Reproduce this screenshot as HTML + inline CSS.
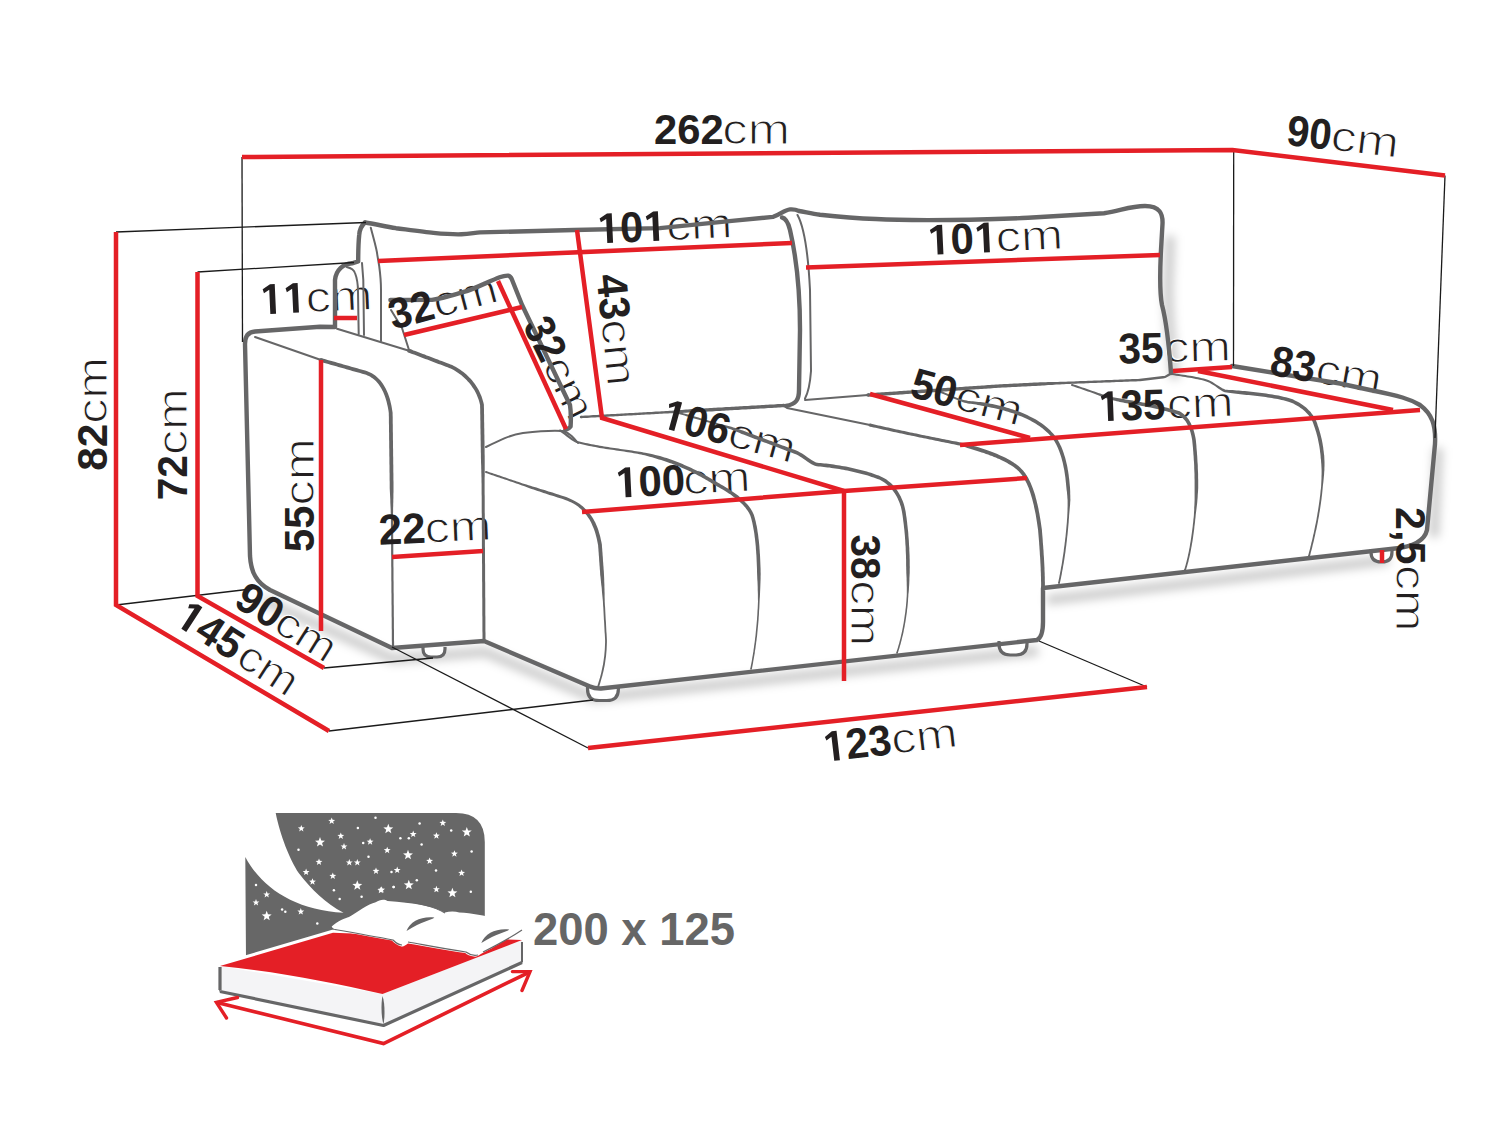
<!DOCTYPE html><html><head><meta charset="utf-8"><style>html,body{margin:0;padding:0;background:#fff;overflow:hidden;font-family:"Liberation Sans",sans-serif}svg{display:block}</style></head><body><svg width="1500" height="1125" viewBox="0 0 1500 1125">
<defs><filter id="sh" x="-20%" y="-50%" width="140%" height="200%"><feGaussianBlur stdDeviation="5"/></filter></defs>
<rect width="1500" height="1125" fill="#fff"/>
<g filter="url(#sh)" fill="none" stroke="#000" stroke-opacity="0.2" stroke-width="10" transform="translate(1,8)"><path d="M262,592 L392,651 L484,644 L593,690 L1037,643"/><path d="M1046,592 L1388,552"/><path d="M1169,228 L1168,260 C1166,290 1168,320 1174,371"/><path d="M1437,440 L1433,529"/></g>
<g fill="#231f20" font-family="Liberation Sans, sans-serif"><g transform="translate(655.5,144) rotate(0)"><text x="66.80" y="0" font-size="42.5" textLength="67.60" lengthAdjust="spacingAndGlyphs" stroke="#fff" stroke-width="1.1">cm</text></g><g transform="translate(1286.9,144.9) rotate(6.6)"><text x="42.98" y="0" font-size="42.5" textLength="68.25" lengthAdjust="spacingAndGlyphs" stroke="#fff" stroke-width="1.1">cm</text></g><g transform="translate(600.7,243.4) rotate(-2.6)"><text x="66.14" y="0" font-size="42.5" textLength="66.18" lengthAdjust="spacingAndGlyphs" stroke="#fff" stroke-width="1.1">cm</text></g><g transform="translate(931,254.9) rotate(-2.66)"><text x="65.30" y="0" font-size="42.5" textLength="67.60" lengthAdjust="spacingAndGlyphs" stroke="#fff" stroke-width="1.1">cm</text></g><g transform="translate(263.8,314.2) rotate(-2.6)"><text x="42.52" y="0" font-size="42.5" textLength="66.94" lengthAdjust="spacingAndGlyphs" stroke="#fff" stroke-width="1.1">cm</text></g><g transform="translate(394,329.6) rotate(-15)"><text x="44.57" y="0" font-size="42.5" textLength="65.42" lengthAdjust="spacingAndGlyphs" stroke="#fff" stroke-width="1.1">cm</text></g><g transform="translate(523,326.2) rotate(64)"><text x="42.79" y="0" font-size="42.5" textLength="64.77" lengthAdjust="spacingAndGlyphs" stroke="#fff" stroke-width="1.1">cm</text></g><g transform="translate(596.6,276.2) rotate(84.3)"><text x="44.62" y="0" font-size="42.5" textLength="66.83" lengthAdjust="spacingAndGlyphs" stroke="#fff" stroke-width="1.1">cm</text></g><g transform="translate(107,469.5) rotate(-90)"><text x="45.72" y="0" font-size="42.5" textLength="66.94" lengthAdjust="spacingAndGlyphs" stroke="#fff" stroke-width="1.1">cm</text></g><g transform="translate(187.3,498.6) rotate(-90)"><text x="43.52" y="0" font-size="42.5" textLength="66.94" lengthAdjust="spacingAndGlyphs" stroke="#fff" stroke-width="1.1">cm</text></g><g transform="translate(313.9,550.8) rotate(-90)"><text x="45.31" y="0" font-size="42.5" textLength="67.27" lengthAdjust="spacingAndGlyphs" stroke="#fff" stroke-width="1.1">cm</text></g><g transform="translate(380.8,544.6) rotate(-2.5)"><text x="44.52" y="0" font-size="42.5" textLength="66.83" lengthAdjust="spacingAndGlyphs" stroke="#fff" stroke-width="1.1">cm</text></g><g transform="translate(662.5,427.9) rotate(15.3)"><text x="65.26" y="0" font-size="42.5" textLength="68.69" lengthAdjust="spacingAndGlyphs" stroke="#fff" stroke-width="1.1">cm</text></g><g transform="translate(619,497.5) rotate(-2.8)"><text x="64.90" y="0" font-size="42.5" textLength="67.38" lengthAdjust="spacingAndGlyphs" stroke="#fff" stroke-width="1.1">cm</text></g><g transform="translate(851.2,535.4) rotate(90)"><text x="44.75" y="0" font-size="42.5" textLength="65.96" lengthAdjust="spacingAndGlyphs" stroke="#fff" stroke-width="1.1">cm</text></g><g transform="translate(909.6,396.7) rotate(15)"><text x="44.78" y="0" font-size="42.5" textLength="68.14" lengthAdjust="spacingAndGlyphs" stroke="#fff" stroke-width="1.1">cm</text></g><g transform="translate(1101.8,421.3) rotate(-2.25)"><text x="65.42" y="0" font-size="42.5" textLength="66.94" lengthAdjust="spacingAndGlyphs" stroke="#fff" stroke-width="1.1">cm</text></g><g transform="translate(1119.6,363.5) rotate(-1.5)"><text x="45.23" y="0" font-size="42.5" textLength="66.40" lengthAdjust="spacingAndGlyphs" stroke="#fff" stroke-width="1.1">cm</text></g><g transform="translate(1269.7,374.8) rotate(10)"><text x="44.62" y="0" font-size="42.5" textLength="66.83" lengthAdjust="spacingAndGlyphs" stroke="#fff" stroke-width="1.1">cm</text></g><g transform="translate(1395.8,508.5) rotate(90)"><text x="56.63" y="0" font-size="42.5" textLength="66.51" lengthAdjust="spacingAndGlyphs" stroke="#fff" stroke-width="1.1">cm</text></g><g transform="translate(233.5,606) rotate(32)"><text x="44.90" y="0" font-size="42.5" textLength="64.33" lengthAdjust="spacingAndGlyphs" stroke="#fff" stroke-width="1.1">cm</text></g><g transform="translate(175.8,625.2) rotate(33)"><text x="69.41" y="0" font-size="42.5" textLength="63.90" lengthAdjust="spacingAndGlyphs" stroke="#fff" stroke-width="1.1">cm</text></g><g transform="translate(827.8,761.6) rotate(-6.65)"><text x="65.33" y="0" font-size="42.5" textLength="66.51" lengthAdjust="spacingAndGlyphs" stroke="#fff" stroke-width="1.1">cm</text></g></g>
<g fill="#fff" stroke="#666667" stroke-width="3.2"><path d="M423,647 L423,649.0 Q423,657 431.0,657 L437.0,657 Q445,657 445,649.0 L445,647"/><path d="M587.5,686 L587.5,688.9 Q587.5,700.5 599.1,700.5 L606.8,700.5 Q618.4,700.5 618.4,688.9 L618.4,686"/><path d="M999,641 L999,643.8 Q999,655 1010.2,655 L1015.8,655 Q1027,655 1027,643.8 L1027,641"/><path d="M1371,549.5 L1371,552.0 Q1371,562 1381.0,562 L1382.0,562 Q1392,562 1392,552.0 L1392,549.5"/></g>
<g fill="none" stroke="#666667" stroke-width="2" stroke-linecap="round" stroke-linejoin="round"><path d="M797.5,215 C803,225 808,250 810,290 L811,371 C810,385 808,393 805,398.5"/><path d="M805,400 L868,395"/><path d="M787,408 L870,425"/><path d="M362,263 L363.3,280 L364,335"/><path d="M370.8,227.7 C374,240 377,250 377.3,254.8 C378.5,262 379.2,266 379.2,266 C380,272 381,280 381,290 L381,341"/><path d="M346.7,267 C351,268 354,270 355,273 C357,278 358,285 358,292 L358.7,334"/><path d="M337,328.7 L409,350.7"/><path d="M255,337 L321,360"/><path d="M391,310 L402,328 L409,350"/><path d="M486,447 C500,440 510,435 523,433 C540,431 553,430 563,431 C570,433 574,438 578,443"/></g>
<g fill="none" stroke="#666667" stroke-width="4.4" stroke-linecap="round" stroke-linejoin="round"><path d="M365,222.5 C375,224 385,226.5 396,228.2 C410,230 425,232 433.4,232.9 C445,234 455,234.5 461.4,234.3 C470,234 475,232.6 480,232.4 L574,230 L660,228.1 L729.3,221.1 L773,216.9 C780,215 784,210 790,209.4 C795,209 798,210.5 799,211 C805,212 812,213.5 820,214.7 C840,217 860,218.5 876,219 C910,221 990,220 1028,217.8 C1060,216 1090,214 1104,213.2 C1120,211 1130,206 1145,206 C1160,206 1163,214 1162.5,224 L1161,250 C1160,270 1159,290 1162,305 C1166,320 1169,345 1171,373"/><path d="M365,222.5 C361,226 359.6,229 359.2,235 C358.5,242 358.2,250 358.2,261.4 L352,263.3 C343,264 336,270 335,280 L335,327 L320,326.7 L255,331.5 C248,332 245,336 245,344 L250,556 C251,572 256,582 270,590 L392,648 L484,641 L590,686.5 C593,688 596,688.6 601,688.5 L1037,640 C1041,638 1043,632 1043,622 L1043,588 L1395,548.5 C1410,547 1424,543 1427,530 L1435,444 C1436,425 1432,414 1420,405 C1410,399 1400,396 1370,390 L1340,383.5 L1232,366"/><path d="M786,406 C796,404 799,400 799,390 L800,330 C800,300 797,260 790,230 C788,222 785,218 782,217.5"/><path d="M390.4,300 C405,300 420,300 432,299.9 C445,298 456,294 466.7,291.2 C478,287 490,281 499.6,277.3 C503,276 506,275.5 508.2,275.6 C510,276 511,277.5 511.7,279 L522.1,305 L570,405 C571,412 571,420 570.6,426.4 C569.5,428 568,429 565.4,429.8"/></g>
<g fill="#666667" stroke="none"><path d="M868.1,396.7 L870.1,396.6 L872.1,396.4 L874.1,396.3 L876.1,396.2 L878.1,396.0 L880.1,395.9 L882.1,395.7 L884.1,395.6 L886.1,395.5 L888.1,395.3 L890.1,395.2 L892.1,395.1 L894.1,394.9 L896.1,394.8 L898.1,394.7 L900.1,394.5 L902.1,394.4 L904.1,394.2 L906.1,394.1 L908.1,394.0 L910.1,393.8 L912.1,393.7 L914.1,393.6 L916.1,393.4 L918.1,393.3 L920.1,393.2 L922.1,393.0 L924.1,392.9 L926.1,392.7 L928.1,392.6 L930.1,392.5 L932.1,392.3 L934.1,392.2 L936.1,392.1 L938.1,391.9 L940.1,391.8 L942.1,391.7 L944.1,391.5 L946.1,391.4 L948.1,391.2 L950.1,391.1 L952.1,391.0 L954.1,390.8 L956.1,390.7 L958.1,390.6 L960.1,390.4 L962.1,390.3 L964.1,390.2 L966.1,390.0 L968.1,389.9 L970.1,389.7 L972.1,389.6 L974.1,389.5 L976.1,389.3 L978.1,389.2 L980.1,389.1 L982.1,388.9 L984.1,388.8 L986.1,388.7 L988.1,388.5 L990.1,388.4 L992.1,388.2 L994.1,388.1 L996.1,388.0 L998.1,387.8 L1000.1,387.7 L1002.1,387.6 L1004.1,387.5 L1006.1,387.4 L1008.1,387.3 L1010.1,387.2 L1012.1,387.1 L1014.1,387.0 L1016.1,386.9 L1018.1,386.8 L1020.1,386.7 L1022.1,386.6 L1024.1,386.5 L1026.1,386.4 L1028.1,386.3 L1030.1,386.2 L1032.1,386.1 L1034.1,386.0 L1036.1,385.9 L1038.1,385.8 L1040.1,385.7 L1042.1,385.5 L1044.1,385.4 L1046.1,385.2 L1048.1,385.1 L1050.1,385.0 L1052.1,384.9 L1054.1,384.7 L1056.1,384.6 L1058.1,384.5 L1060.0,384.4 L1062.0,384.3 L1064.0,384.2 L1066.0,384.1 L1068.0,384.0 L1070.0,383.9 L1072.0,383.8 L1074.0,383.8 L1076.0,383.7 L1078.0,383.6 L1080.0,383.5 L1082.0,383.5 L1084.0,383.4 L1086.0,383.3 L1088.0,383.2 L1090.0,383.1 L1092.0,383.1 L1094.0,383.0 L1096.0,382.9 L1098.0,382.8 L1100.0,382.8 L1102.0,382.7 L1104.0,382.6 L1106.0,382.5 L1108.0,382.4 L1110.0,382.4 L1112.0,382.3 L1114.0,382.2 L1116.0,382.1 L1118.0,382.1 L1120.0,382.0 L1122.0,381.9 L1124.0,381.8 L1126.0,381.7 L1128.0,381.7 L1130.0,381.6 L1132.0,381.5 L1134.0,381.4 L1136.0,381.4 L1138.0,381.3 L1140.1,381.2 L1142.2,380.9 L1144.3,380.7 L1146.4,380.4 L1148.5,380.2 L1150.6,379.9 L1152.6,379.7 L1154.7,379.4 L1156.8,379.2 L1158.9,378.9 L1161.0,378.7 L1163.1,378.4 L1165.4,378.1 L1167.3,377.0 L1169.1,376.0 L1170.8,375.0 L1172.6,374.0 L1171.4,372.0 L1169.7,373.0 L1167.9,374.0 L1166.2,375.0 L1164.6,375.9 L1162.8,376.1 L1160.7,376.3 L1158.6,376.6 L1156.5,376.8 L1154.4,377.1 L1152.4,377.3 L1150.3,377.6 L1148.2,377.8 L1146.1,378.1 L1144.0,378.3 L1141.9,378.6 L1139.9,378.8 L1138.0,378.9 L1136.0,379.0 L1134.0,379.0 L1132.0,379.1 L1130.0,379.2 L1128.0,379.3 L1126.0,379.3 L1124.0,379.4 L1122.0,379.5 L1120.0,379.6 L1118.0,379.7 L1116.0,379.7 L1114.0,379.8 L1112.0,379.9 L1110.0,380.0 L1108.0,380.0 L1106.0,380.1 L1104.0,380.2 L1102.0,380.3 L1100.0,380.4 L1098.0,380.4 L1096.0,380.5 L1094.0,380.6 L1092.0,380.7 L1090.0,380.7 L1088.0,380.8 L1086.0,380.9 L1084.0,381.0 L1082.0,381.1 L1080.0,381.1 L1078.0,381.2 L1076.0,381.3 L1074.0,381.4 L1072.0,381.4 L1070.0,381.5 L1068.0,381.6 L1066.0,381.7 L1064.0,381.8 L1062.0,381.8 L1060.0,381.8 L1057.9,381.9 L1055.9,381.9 L1053.9,382.0 L1051.9,382.0 L1049.9,382.0 L1047.9,382.1 L1045.9,382.2 L1043.9,382.2 L1041.9,382.3 L1039.9,382.3 L1037.9,382.4 L1035.9,382.5 L1033.9,382.6 L1031.9,382.7 L1029.9,382.8 L1027.9,382.9 L1025.9,383.0 L1023.9,383.1 L1021.9,383.2 L1019.9,383.3 L1017.9,383.4 L1015.9,383.5 L1013.9,383.6 L1011.9,383.7 L1009.9,383.8 L1007.9,383.9 L1005.9,384.0 L1003.9,384.1 L1001.9,384.2 L999.9,384.3 L997.9,384.4 L995.9,384.6 L993.9,384.7 L991.9,384.8 L989.9,385.0 L987.9,385.1 L985.9,385.3 L983.9,385.4 L981.9,385.5 L979.9,385.7 L977.9,385.8 L975.9,385.9 L973.9,386.1 L971.9,386.2 L969.9,386.3 L967.9,386.5 L965.9,386.6 L963.9,386.8 L961.9,386.9 L959.9,387.0 L957.9,387.2 L955.9,387.3 L953.9,387.4 L951.9,387.6 L949.9,387.7 L947.9,387.8 L945.9,388.0 L943.9,388.1 L941.9,388.3 L939.9,388.4 L937.9,388.5 L935.9,388.7 L933.9,388.8 L931.9,388.9 L929.9,389.1 L927.9,389.2 L925.9,389.3 L923.9,389.5 L921.9,389.6 L919.9,389.8 L917.9,389.9 L915.9,390.0 L913.9,390.2 L911.9,390.3 L909.9,390.4 L907.9,390.6 L905.9,390.7 L903.9,390.8 L901.9,391.0 L899.9,391.1 L897.9,391.3 L895.9,391.4 L893.9,391.5 L891.9,391.7 L889.9,391.8 L887.9,391.9 L885.9,392.1 L883.9,392.2 L881.9,392.3 L879.9,392.5 L877.9,392.6 L875.9,392.8 L873.9,392.9 L871.9,393.0 L869.9,393.2 L867.9,393.3Z"/><circle cx="868.0" cy="395.0" r="1.70"/><circle cx="1172.0" cy="373.0" r="1.20"/><path d="M320.5,361.8 L322.5,362.4 L324.5,363.0 L326.4,363.5 L328.4,364.1 L330.4,364.7 L332.4,365.2 L334.4,365.8 L336.4,366.3 L338.4,366.9 L340.3,367.5 L342.3,368.0 L344.3,368.6 L346.3,369.2 L348.3,369.7 L350.3,370.3 L352.3,370.9 L354.3,371.4 L356.2,372.0 L358.2,372.6 L360.2,373.1 L362.2,373.7 L364.2,374.3 L366.1,374.8 L367.5,375.4 L368.9,376.1 L370.3,376.8 L371.6,377.7 L372.9,378.6 L374.1,379.6 L375.3,380.6 L376.5,381.8 L377.6,383.0 L378.6,384.3 L379.6,385.7 L380.6,387.2 L381.5,388.8 L382.4,390.4 L383.2,392.1 L384.0,393.9 L384.7,395.7 L385.4,397.7 L386.0,399.7 L386.6,401.7 L387.1,403.9 L387.6,406.1 L388.1,408.4 L388.5,410.8 L388.8,413.2 L388.8,415.0 L388.9,417.1 L388.9,419.1 L388.9,421.1 L388.9,423.1 L389.0,425.2 L389.0,427.2 L389.0,429.2 L389.0,431.2 L389.1,433.3 L389.1,435.3 L389.1,437.3 L389.1,439.3 L389.2,441.3 L389.2,443.4 L389.2,445.4 L389.2,447.4 L389.3,449.4 L389.3,451.5 L389.3,453.5 L389.3,455.5 L389.4,457.5 L389.4,459.6 L389.4,461.6 L389.4,463.6 L389.5,465.6 L389.5,467.7 L389.5,469.7 L389.5,471.7 L389.6,473.7 L389.6,475.7 L389.6,477.8 L389.6,479.8 L389.7,481.8 L389.7,483.8 L389.7,485.9 L389.7,487.9 L389.8,489.9 L389.9,491.9 L390.0,494.0 L390.1,496.0 L390.2,498.0 L390.3,500.0 L390.3,502.0 L390.4,504.0 L390.5,506.0 L390.6,508.0 L390.7,510.0 L390.7,512.0 L390.8,514.0 L390.8,516.0 L390.8,518.0 L390.9,520.0 L390.9,522.0 L390.9,524.0 L390.9,526.0 L390.9,528.0 L390.9,530.0 L391.0,532.0 L391.0,534.0 L391.0,536.0 L391.0,538.0 L391.0,540.0 L391.0,542.0 L391.1,544.0 L391.1,546.0 L391.1,548.0 L391.1,550.0 L391.1,552.0 L391.1,554.0 L391.2,556.0 L391.2,558.0 L391.2,560.0 L391.2,562.0 L391.2,564.0 L391.2,566.0 L391.3,568.0 L391.3,570.0 L391.3,572.0 L391.3,574.0 L391.3,576.0 L391.3,578.0 L391.3,580.0 L391.4,582.0 L391.4,584.0 L391.4,586.0 L391.4,588.0 L391.4,590.0 L391.4,592.0 L391.5,594.0 L391.5,596.0 L391.5,598.0 L391.5,600.0 L391.5,602.0 L391.5,604.0 L391.6,606.0 L391.6,608.0 L391.6,610.0 L391.6,612.0 L391.6,614.0 L391.6,616.0 L391.7,618.0 L391.7,620.0 L391.7,622.0 L391.7,624.0 L391.7,626.0 L391.7,628.0 L391.8,630.0 L391.8,632.0 L391.8,634.0 L391.8,636.0 L391.8,638.0 L391.8,640.0 L391.9,642.0 L391.9,644.0 L391.9,646.0 L391.9,648.0 L394.1,648.0 L394.1,646.0 L394.1,644.0 L394.1,642.0 L394.0,640.0 L394.0,638.0 L394.0,636.0 L394.0,634.0 L394.0,632.0 L394.0,630.0 L393.9,628.0 L393.9,626.0 L393.9,624.0 L393.9,622.0 L393.9,620.0 L393.9,618.0 L393.8,616.0 L393.8,614.0 L393.8,612.0 L393.8,610.0 L393.8,608.0 L393.8,606.0 L393.7,604.0 L393.7,602.0 L393.7,600.0 L393.7,598.0 L393.7,596.0 L393.7,594.0 L393.6,592.0 L393.6,590.0 L393.6,588.0 L393.6,586.0 L393.6,584.0 L393.6,582.0 L393.5,580.0 L393.5,578.0 L393.5,576.0 L393.5,574.0 L393.5,572.0 L393.5,570.0 L393.5,568.0 L393.4,566.0 L393.4,564.0 L393.4,562.0 L393.4,560.0 L393.4,558.0 L393.4,556.0 L393.3,554.0 L393.3,552.0 L393.3,550.0 L393.3,548.0 L393.3,546.0 L393.3,544.0 L393.2,542.0 L393.2,540.0 L393.2,538.0 L393.2,536.0 L393.2,534.0 L393.2,532.0 L393.1,530.0 L393.1,528.0 L393.1,526.0 L393.1,524.0 L393.1,522.0 L393.1,520.0 L393.0,518.0 L393.0,516.0 L393.0,514.0 L393.1,512.0 L393.1,510.0 L393.1,508.0 L393.2,506.0 L393.2,504.0 L393.3,502.0 L393.3,500.0 L393.4,498.0 L393.4,495.9 L393.4,493.9 L393.5,491.9 L393.5,489.9 L393.5,487.8 L393.5,485.8 L393.5,483.8 L393.5,481.8 L393.4,479.7 L393.4,477.7 L393.4,475.7 L393.4,473.7 L393.3,471.7 L393.3,469.6 L393.3,467.6 L393.3,465.6 L393.2,463.6 L393.2,461.5 L393.2,459.5 L393.2,457.5 L393.1,455.5 L393.1,453.4 L393.1,451.4 L393.1,449.4 L393.0,447.4 L393.0,445.3 L393.0,443.3 L393.0,441.3 L392.9,439.3 L392.9,437.3 L392.9,435.2 L392.9,433.2 L392.8,431.2 L392.8,429.2 L392.8,427.1 L392.8,425.1 L392.7,423.1 L392.7,421.1 L392.7,419.0 L392.7,417.0 L392.6,415.0 L392.6,412.8 L392.2,410.2 L391.8,407.8 L391.4,405.4 L390.8,403.0 L390.3,400.8 L389.7,398.6 L389.0,396.4 L388.3,394.4 L387.5,392.4 L386.6,390.5 L385.8,388.7 L384.8,386.9 L383.8,385.2 L382.7,383.6 L381.6,382.0 L380.5,380.6 L379.2,379.2 L377.9,377.9 L376.6,376.7 L375.2,375.6 L373.7,374.5 L372.2,373.6 L370.7,372.7 L369.0,371.9 L367.3,371.2 L365.2,370.6 L363.2,370.0 L361.3,369.5 L359.3,368.9 L357.3,368.3 L355.3,367.8 L353.3,367.2 L351.3,366.7 L349.3,366.1 L347.4,365.5 L345.4,365.0 L343.4,364.4 L341.4,363.8 L339.4,363.3 L337.4,362.7 L335.4,362.1 L333.4,361.6 L331.5,361.0 L329.5,360.4 L327.5,359.9 L325.5,359.3 L323.5,358.7 L321.5,358.2Z"/><circle cx="321.0" cy="360.0" r="1.90"/><circle cx="393.0" cy="648.0" r="1.10"/><path d="M408.3,352.5 L410.2,353.2 L412.1,353.9 L414.0,354.6 L415.9,355.3 L417.8,356.1 L419.6,356.8 L421.5,357.5 L423.4,358.2 L425.3,358.9 L427.2,359.6 L429.1,360.3 L430.9,361.1 L432.8,361.8 L434.7,362.5 L436.6,363.2 L438.5,363.9 L440.4,364.6 L442.3,365.3 L444.1,366.1 L446.0,366.8 L447.6,367.3 L449.1,367.9 L450.7,368.6 L452.2,369.3 L453.7,370.1 L455.2,371.0 L456.7,371.9 L458.2,372.9 L459.6,373.9 L461.1,375.0 L462.5,376.2 L463.9,377.4 L465.2,378.7 L466.6,380.0 L467.8,381.4 L469.1,382.8 L470.3,384.3 L471.4,385.8 L472.5,387.4 L473.6,389.0 L474.6,390.6 L475.5,392.3 L476.4,394.1 L477.2,395.9 L477.9,397.7 L478.6,399.6 L479.2,401.5 L479.7,403.4 L480.1,405.2 L480.1,407.1 L480.2,409.1 L480.2,411.1 L480.2,413.2 L480.3,415.2 L480.3,417.2 L480.3,419.2 L480.4,421.3 L480.4,423.3 L480.4,425.3 L480.4,427.4 L480.5,429.4 L480.5,431.4 L480.5,433.5 L480.6,435.5 L480.6,437.5 L480.6,439.6 L480.7,441.6 L480.7,443.6 L480.7,445.7 L480.8,447.7 L480.8,449.7 L480.8,451.7 L480.9,453.8 L480.9,455.8 L480.9,457.8 L481.0,459.9 L481.0,461.9 L481.1,463.9 L481.2,466.0 L481.2,468.0 L481.3,470.0 L481.3,472.0 L481.4,474.0 L481.4,476.0 L481.5,478.1 L481.5,480.1 L481.5,482.1 L481.6,484.1 L481.6,486.1 L481.6,488.1 L481.6,490.1 L481.6,492.1 L481.6,494.1 L481.7,496.2 L481.7,498.2 L481.7,500.2 L481.7,502.2 L481.7,504.2 L481.7,506.2 L481.7,508.2 L481.7,510.2 L481.7,512.3 L481.8,514.3 L481.8,516.3 L481.8,518.3 L481.8,520.3 L481.8,522.3 L481.8,524.3 L481.8,526.3 L481.8,528.3 L481.9,530.4 L481.9,532.4 L481.9,534.4 L481.9,536.4 L481.9,538.4 L481.9,540.4 L481.9,542.4 L481.9,544.4 L481.9,546.5 L482.0,548.5 L482.0,550.5 L482.0,552.5 L482.0,554.5 L482.0,556.5 L482.0,558.5 L482.0,560.5 L482.0,562.5 L482.1,564.6 L482.1,566.6 L482.1,568.6 L482.1,570.6 L482.1,572.6 L482.1,574.6 L482.1,576.6 L482.1,578.6 L482.1,580.7 L482.2,582.7 L482.2,584.7 L482.2,586.7 L482.2,588.7 L482.2,590.7 L482.2,592.7 L482.2,594.7 L482.2,596.7 L482.3,598.8 L482.3,600.8 L482.3,602.8 L482.3,604.8 L482.3,606.8 L482.3,608.8 L482.3,610.8 L482.3,612.8 L482.3,614.9 L482.4,616.9 L482.4,618.9 L482.4,620.9 L482.4,622.9 L482.4,624.9 L482.4,626.9 L482.4,628.9 L482.4,630.9 L482.5,633.0 L482.5,635.0 L482.5,637.0 L482.5,639.0 L482.5,641.0 L485.5,641.0 L485.5,639.0 L485.5,637.0 L485.5,635.0 L485.5,632.9 L485.4,630.9 L485.4,628.9 L485.4,626.9 L485.4,624.9 L485.4,622.9 L485.4,620.9 L485.4,618.9 L485.4,616.9 L485.3,614.8 L485.3,612.8 L485.3,610.8 L485.3,608.8 L485.3,606.8 L485.3,604.8 L485.3,602.8 L485.3,600.8 L485.3,598.7 L485.2,596.7 L485.2,594.7 L485.2,592.7 L485.2,590.7 L485.2,588.7 L485.2,586.7 L485.2,584.7 L485.2,582.7 L485.1,580.6 L485.1,578.6 L485.1,576.6 L485.1,574.6 L485.1,572.6 L485.1,570.6 L485.1,568.6 L485.1,566.6 L485.1,564.5 L485.0,562.5 L485.0,560.5 L485.0,558.5 L485.0,556.5 L485.0,554.5 L485.0,552.5 L485.0,550.5 L485.0,548.5 L484.9,546.4 L484.9,544.4 L484.9,542.4 L484.9,540.4 L484.9,538.4 L484.9,536.4 L484.9,534.4 L484.9,532.4 L484.9,530.3 L484.8,528.3 L484.8,526.3 L484.8,524.3 L484.8,522.3 L484.8,520.3 L484.8,518.3 L484.8,516.3 L484.8,514.3 L484.7,512.2 L484.7,510.2 L484.7,508.2 L484.7,506.2 L484.7,504.2 L484.7,502.2 L484.7,500.2 L484.7,498.2 L484.7,496.1 L484.6,494.1 L484.6,492.1 L484.6,490.1 L484.6,488.1 L484.6,486.1 L484.6,484.1 L484.6,482.1 L484.6,480.0 L484.6,478.0 L484.7,476.0 L484.7,474.0 L484.7,472.0 L484.7,470.0 L484.7,467.9 L484.7,465.9 L484.7,463.9 L484.7,461.8 L484.7,459.8 L484.7,457.8 L484.7,455.8 L484.6,453.7 L484.6,451.7 L484.6,449.7 L484.6,447.6 L484.5,445.6 L484.5,443.6 L484.5,441.5 L484.4,439.5 L484.4,437.5 L484.4,435.4 L484.3,433.4 L484.3,431.4 L484.3,429.3 L484.2,427.3 L484.2,425.3 L484.2,423.3 L484.1,421.2 L484.1,419.2 L484.1,417.2 L484.1,415.1 L484.0,413.1 L484.0,411.1 L484.0,409.0 L483.9,407.0 L483.9,404.8 L483.4,402.5 L482.8,400.4 L482.2,398.4 L481.5,396.3 L480.7,394.4 L479.8,392.5 L478.9,390.6 L477.9,388.8 L476.8,387.0 L475.7,385.2 L474.5,383.6 L473.3,381.9 L472.0,380.3 L470.7,378.8 L469.3,377.4 L467.9,375.9 L466.4,374.6 L464.9,373.3 L463.4,372.0 L461.9,370.9 L460.3,369.8 L458.7,368.7 L457.1,367.7 L455.5,366.8 L453.9,365.9 L452.2,365.1 L450.6,364.4 L448.9,363.8 L447.4,363.2 L445.5,362.5 L443.6,361.8 L441.7,361.1 L439.8,360.4 L437.9,359.6 L436.1,358.9 L434.2,358.2 L432.3,357.5 L430.4,356.8 L428.5,356.1 L426.6,355.4 L424.8,354.6 L422.9,353.9 L421.0,353.2 L419.1,352.5 L417.2,351.8 L415.3,351.1 L413.4,350.4 L411.6,349.6 L409.7,348.9Z"/><circle cx="409.0" cy="350.7" r="1.90"/><circle cx="484.0" cy="641.0" r="1.50"/><path d="M581.1,418.2 L583.1,418.1 L585.1,418.0 L587.1,417.9 L589.1,417.7 L591.2,417.6 L593.2,417.5 L595.2,417.4 L597.2,417.3 L599.3,417.2 L601.3,417.1 L603.3,417.0 L605.3,416.9 L607.3,416.7 L609.4,416.6 L611.4,416.5 L613.4,416.4 L615.4,416.3 L617.4,416.2 L619.5,416.1 L621.5,416.0 L623.5,415.8 L625.5,415.7 L627.5,415.6 L629.6,415.5 L631.6,415.4 L633.6,415.3 L635.6,415.2 L637.6,415.1 L639.7,414.9 L641.7,414.8 L643.7,414.7 L645.7,414.6 L647.7,414.5 L649.8,414.4 L651.8,414.3 L653.8,414.2 L655.8,414.0 L657.8,413.9 L659.9,413.8 L661.9,413.7 L663.9,413.6 L665.9,413.5 L667.9,413.4 L670.0,413.3 L672.0,413.2 L674.0,413.2 L676.0,413.1 L678.1,413.0 L680.1,412.9 L682.1,412.9 L684.1,412.8 L686.1,412.7 L688.1,412.6 L690.1,412.5 L692.1,412.5 L694.1,412.4 L696.1,412.3 L698.1,412.2 L700.1,412.0 L702.1,411.9 L704.1,411.8 L706.1,411.7 L708.1,411.6 L710.1,411.5 L712.1,411.4 L714.1,411.2 L716.1,411.1 L718.1,411.0 L720.1,410.9 L722.1,410.8 L724.1,410.7 L726.1,410.5 L728.1,410.4 L730.1,410.3 L732.1,410.2 L734.1,410.1 L736.1,410.0 L738.1,409.9 L740.1,409.7 L742.1,409.6 L744.1,409.5 L746.1,409.4 L748.1,409.3 L750.1,409.2 L752.1,409.0 L754.1,408.9 L756.1,408.8 L758.1,408.7 L760.1,408.6 L762.1,408.5 L764.1,408.4 L766.1,408.2 L768.1,408.1 L770.1,408.0 L772.1,407.9 L774.1,407.8 L776.1,407.7 L778.1,407.5 L780.1,407.4 L782.1,407.3 L784.1,407.2 L783.9,403.8 L781.9,403.9 L779.9,404.0 L777.9,404.1 L775.9,404.3 L773.9,404.4 L771.9,404.5 L769.9,404.6 L767.9,404.7 L765.9,404.8 L763.9,405.0 L761.9,405.1 L759.9,405.2 L757.9,405.3 L755.9,405.4 L753.9,405.5 L751.9,405.6 L749.9,405.8 L747.9,405.9 L745.9,406.0 L743.9,406.1 L741.9,406.2 L739.9,406.3 L737.9,406.5 L735.9,406.6 L733.9,406.7 L731.9,406.8 L729.9,406.9 L727.9,407.0 L725.9,407.1 L723.9,407.3 L721.9,407.4 L719.9,407.5 L717.9,407.6 L715.9,407.7 L713.9,407.8 L711.9,408.0 L709.9,408.1 L707.9,408.2 L705.9,408.3 L703.9,408.4 L701.9,408.5 L699.9,408.6 L697.9,408.8 L695.9,408.9 L693.9,409.0 L691.9,409.1 L689.9,409.3 L687.9,409.5 L685.9,409.6 L683.9,409.8 L681.9,409.9 L679.9,410.1 L677.9,410.2 L675.9,410.4 L673.9,410.5 L671.8,410.7 L669.8,410.8 L667.8,411.0 L665.8,411.1 L663.8,411.2 L661.7,411.3 L659.7,411.4 L657.7,411.5 L655.7,411.6 L653.7,411.8 L651.6,411.9 L649.6,412.0 L647.6,412.1 L645.6,412.2 L643.6,412.3 L641.5,412.4 L639.5,412.5 L637.5,412.7 L635.5,412.8 L633.5,412.9 L631.4,413.0 L629.4,413.1 L627.4,413.2 L625.4,413.3 L623.4,413.4 L621.3,413.6 L619.3,413.7 L617.3,413.8 L615.3,413.9 L613.3,414.0 L611.2,414.1 L609.2,414.2 L607.2,414.3 L605.2,414.5 L603.2,414.6 L601.1,414.7 L599.1,414.8 L597.1,414.9 L595.1,415.0 L593.1,415.1 L591.0,415.2 L589.0,415.4 L587.0,415.5 L585.0,415.6 L583.0,415.7 L580.9,415.8Z"/><circle cx="581.0" cy="417.0" r="1.20"/><circle cx="784.0" cy="405.5" r="1.70"/><path d="M559.4,431.4 L561.2,432.5 L563.0,433.7 L564.7,435.0 L566.5,436.4 L568.2,437.7 L569.9,439.0 L571.6,440.2 L573.3,441.3 L575.0,442.3 L576.6,443.0 L578.8,443.6 L580.8,444.1 L582.9,444.6 L585.0,445.0 L587.0,445.5 L589.1,445.9 L591.2,446.3 L593.3,446.7 L595.4,447.1 L597.4,447.5 L599.5,447.9 L601.6,448.2 L603.7,448.5 L605.8,448.9 L607.8,449.2 L609.9,449.5 L612.0,449.8 L614.0,450.1 L616.1,450.4 L618.1,450.7 L620.1,451.0 L622.1,451.3 L624.1,451.6 L626.1,451.9 L628.0,452.2 L630.0,452.5 L631.9,452.8 L633.8,453.2 L635.7,453.5 L637.5,453.8 L639.4,454.2 L641.2,454.6 L643.0,454.9 L644.7,455.3 L647.2,456.0 L649.7,456.7 L652.1,457.3 L654.4,458.0 L656.7,458.8 L658.9,459.5 L661.2,460.1 L663.3,460.8 L665.5,461.5 L667.6,462.2 L669.6,462.9 L671.6,463.6 L673.6,464.4 L675.6,465.1 L677.5,465.9 L679.3,466.6 L681.2,467.4 L683.0,468.2 L684.8,468.9 L686.5,469.7 L688.2,470.5 L689.9,471.3 L691.6,472.1 L693.2,473.0 L694.9,473.8 L696.5,474.6 L698.1,475.5 L699.6,476.3 L701.2,477.1 L702.7,478.0 L704.3,478.8 L705.8,479.7 L707.3,480.6 L708.8,481.4 L710.3,482.3 L711.7,483.2 L713.2,484.0 L714.7,484.9 L716.1,485.8 L717.6,486.7 L719.1,487.6 L721.2,488.7 L723.1,489.8 L725.1,491.0 L727.0,492.2 L728.8,493.4 L730.7,494.6 L732.4,495.9 L734.1,497.2 L735.8,498.5 L737.4,499.8 L738.9,501.1 L740.4,502.4 L741.8,503.8 L743.1,505.1 L744.3,506.5 L745.5,507.8 L746.5,509.2 L747.5,510.5 L748.3,511.8 L749.1,513.1 L749.8,514.4 L750.3,515.6 L750.7,516.8 L751.1,518.1 L751.5,519.4 L751.8,520.8 L752.2,522.2 L752.5,523.7 L752.8,525.2 L753.1,526.8 L753.4,528.4 L753.7,530.0 L754.0,531.7 L754.3,533.5 L754.5,535.3 L754.7,537.1 L755.0,539.0 L755.2,540.9 L755.4,542.8 L755.6,544.8 L755.8,546.8 L755.9,548.9 L756.1,551.0 L756.2,553.1 L756.4,555.3 L756.5,557.5 L756.6,559.8 L756.7,562.1 L756.8,564.4 L756.9,566.8 L757.0,569.2 L757.0,571.6 L757.1,574.1 L757.2,576.6 L757.3,579.2 L757.5,581.7 L757.6,584.4 L757.7,587.0 L757.7,589.4 L757.8,591.8 L757.9,594.2 L757.9,596.5 L757.9,598.9 L758.0,601.2 L757.9,603.6 L757.8,605.9 L757.7,608.2 L757.5,610.5 L757.4,612.7 L757.3,615.0 L757.1,617.2 L757.0,619.4 L756.8,621.6 L756.6,623.7 L756.4,625.9 L756.2,628.0 L756.0,630.1 L755.8,632.1 L755.6,634.2 L755.4,636.2 L755.1,638.2 L754.9,640.2 L754.7,642.1 L754.4,644.0 L754.1,645.9 L753.9,647.8 L753.6,649.6 L753.4,651.4 L753.1,653.1 L752.8,654.9 L752.5,656.5 L752.2,658.2 L752.0,659.8 L751.7,661.4 L751.4,663.0 L751.1,664.5 L750.8,666.0 L750.5,667.4 L750.2,668.8 L751.8,669.2 L752.1,667.8 L752.4,666.3 L752.7,664.8 L753.0,663.3 L753.2,661.7 L753.5,660.1 L753.8,658.5 L754.1,656.8 L754.4,655.1 L754.7,653.4 L754.9,651.6 L755.2,649.8 L755.5,648.0 L755.7,646.1 L756.0,644.2 L756.2,642.3 L756.5,640.4 L756.7,638.4 L757.0,636.4 L757.2,634.4 L757.4,632.3 L757.6,630.2 L757.8,628.1 L758.0,626.0 L758.2,623.9 L758.4,621.7 L758.6,619.5 L758.7,617.3 L758.9,615.1 L759.0,612.8 L759.1,610.5 L759.3,608.3 L759.4,606.0 L759.5,603.6 L759.6,601.3 L759.7,598.9 L759.9,596.6 L760.0,594.2 L760.1,591.8 L760.2,589.4 L760.3,587.0 L760.4,584.3 L760.5,581.7 L760.6,579.1 L760.6,576.6 L760.7,574.0 L760.6,571.6 L760.6,569.1 L760.5,566.7 L760.4,564.3 L760.3,561.9 L760.2,559.6 L760.1,557.3 L760.0,555.1 L759.8,552.9 L759.7,550.7 L759.5,548.6 L759.4,546.5 L759.2,544.5 L759.0,542.4 L758.8,540.5 L758.5,538.5 L758.3,536.6 L758.1,534.8 L757.8,533.0 L757.5,531.2 L757.3,529.5 L757.0,527.8 L756.7,526.1 L756.3,524.5 L756.0,522.9 L755.7,521.4 L755.3,519.9 L754.9,518.5 L754.5,517.1 L754.1,515.7 L753.7,514.4 L753.0,512.9 L752.3,511.4 L751.4,509.9 L750.5,508.5 L749.4,507.0 L748.3,505.5 L747.0,504.1 L745.7,502.7 L744.3,501.2 L742.9,499.8 L741.3,498.4 L739.7,497.0 L738.1,495.6 L736.3,494.3 L734.5,493.0 L732.7,491.7 L730.8,490.4 L728.9,489.1 L726.9,487.9 L724.9,486.7 L722.9,485.5 L720.9,484.4 L719.5,483.6 L718.0,482.7 L716.5,481.8 L715.1,480.9 L713.6,480.1 L712.1,479.2 L710.6,478.3 L709.1,477.4 L707.6,476.6 L706.0,475.7 L704.5,474.8 L702.9,474.0 L701.4,473.1 L699.8,472.3 L698.1,471.4 L696.5,470.6 L694.9,469.7 L693.2,468.9 L691.5,468.1 L689.8,467.3 L688.0,466.5 L686.2,465.7 L684.4,464.9 L682.6,464.1 L680.7,463.3 L678.8,462.5 L676.9,461.8 L674.9,461.0 L672.9,460.3 L670.8,459.5 L668.7,458.8 L666.6,458.1 L664.4,457.4 L662.2,456.7 L660.0,456.0 L657.6,455.4 L655.3,454.9 L652.8,454.3 L650.4,453.7 L647.9,453.2 L645.3,452.7 L643.5,452.4 L641.7,452.0 L639.8,451.8 L637.9,451.5 L636.1,451.2 L634.2,450.9 L632.2,450.6 L630.3,450.3 L628.4,450.0 L626.4,449.7 L624.4,449.5 L622.4,449.2 L620.4,448.9 L618.4,448.6 L616.4,448.3 L614.3,448.0 L612.3,447.7 L610.2,447.4 L608.2,447.0 L606.1,446.7 L604.0,446.4 L602.0,446.0 L599.9,445.7 L597.8,445.3 L595.8,445.0 L593.7,444.6 L591.6,444.2 L589.5,443.8 L587.5,443.3 L585.4,442.9 L583.4,442.4 L581.3,441.9 L579.3,441.5 L577.4,441.0 L576.0,440.3 L574.5,439.4 L572.9,438.4 L571.2,437.2 L569.5,435.9 L567.8,434.6 L566.0,433.3 L564.2,432.0 L562.4,430.7 L560.6,429.6Z"/><circle cx="560.0" cy="430.5" r="1.10"/><circle cx="751.0" cy="669.0" r="0.80"/><path d="M678.7,414.0 L680.6,414.5 L682.6,415.1 L684.5,415.6 L686.4,416.2 L688.4,416.7 L690.3,417.3 L692.2,417.8 L694.1,418.4 L696.1,419.0 L698.0,419.5 L699.9,420.1 L701.8,420.6 L703.8,421.2 L705.7,421.7 L707.6,422.3 L709.5,422.8 L711.5,423.4 L713.4,424.0 L715.3,424.5 L717.2,425.1 L719.2,425.6 L721.1,426.2 L723.0,426.9 L724.9,427.5 L726.8,428.1 L728.7,428.7 L730.6,429.3 L732.4,430.0 L734.2,430.8 L736.1,431.6 L738.0,432.3 L739.8,433.1 L741.7,433.9 L743.5,434.6 L745.4,435.3 L747.3,436.0 L749.2,436.7 L751.1,437.5 L753.0,438.2 L754.8,438.9 L756.7,439.6 L758.6,440.3 L760.5,441.0 L762.4,441.7 L764.3,442.4 L766.1,443.1 L768.0,443.8 L769.9,444.5 L771.8,445.2 L773.7,445.9 L775.5,446.6 L777.4,447.3 L779.3,448.0 L781.2,448.7 L783.1,449.5 L785.0,450.2 L786.8,450.9 L788.7,451.6 L790.6,452.3 L792.5,453.0 L794.3,453.7 L796.5,454.6 L798.4,455.6 L800.3,456.7 L802.0,457.8 L803.7,458.9 L805.3,460.1 L806.9,461.2 L808.4,462.3 L809.9,463.3 L811.5,464.3 L813.1,465.1 L814.8,465.8 L816.7,466.3 L818.5,466.4 L820.3,466.6 L822.1,466.8 L823.9,467.0 L825.7,467.2 L827.6,467.4 L829.5,467.6 L831.4,467.9 L833.3,468.2 L835.3,468.5 L837.3,468.8 L839.3,469.1 L841.3,469.4 L843.3,469.8 L845.4,470.2 L847.4,470.6 L849.4,471.0 L851.5,471.4 L853.6,471.9 L855.6,472.4 L857.7,472.9 L859.7,473.4 L861.7,473.9 L863.8,474.5 L865.8,475.0 L867.8,475.6 L869.8,476.3 L871.7,476.9 L873.7,477.6 L875.6,478.2 L877.5,478.9 L879.3,479.6 L881.1,480.5 L882.8,481.5 L884.4,482.6 L886.0,483.8 L887.5,485.0 L888.9,486.2 L890.3,487.6 L891.5,489.0 L892.7,490.4 L893.8,491.9 L894.9,493.4 L895.8,495.0 L896.7,496.6 L897.6,498.2 L898.3,499.9 L899.0,501.5 L899.7,503.2 L900.2,504.9 L900.8,506.6 L901.2,508.3 L901.6,510.0 L901.9,511.6 L902.2,513.3 L902.6,515.7 L902.9,518.1 L903.2,520.4 L903.5,522.7 L903.8,525.0 L904.0,527.3 L904.3,529.5 L904.5,531.7 L904.7,533.8 L904.9,536.0 L905.0,538.1 L905.2,540.1 L905.3,542.2 L905.4,544.2 L905.6,546.2 L905.7,548.2 L905.7,550.2 L905.8,552.1 L905.9,554.1 L906.0,556.0 L906.0,557.9 L906.1,559.8 L906.1,561.7 L906.1,563.5 L906.1,565.4 L906.2,567.2 L906.2,569.1 L906.3,570.9 L906.3,572.7 L906.4,574.5 L906.5,576.4 L906.6,578.2 L906.6,580.0 L906.7,582.4 L906.7,584.8 L906.8,587.2 L906.8,589.5 L906.8,591.8 L906.8,594.1 L906.7,596.4 L906.5,598.7 L906.4,600.9 L906.2,603.1 L906.0,605.3 L905.8,607.5 L905.5,609.6 L905.3,611.7 L905.0,613.8 L904.7,615.8 L904.4,617.9 L904.1,619.9 L903.8,621.9 L903.5,623.8 L903.1,625.7 L902.8,627.6 L902.4,629.5 L902.0,631.4 L901.6,633.2 L901.2,635.0 L900.8,636.7 L900.4,638.5 L899.9,640.2 L899.5,641.8 L899.1,643.5 L898.6,645.1 L898.1,646.7 L897.7,648.3 L897.2,649.8 L896.7,651.3 L896.2,652.8 L897.8,653.2 L898.2,651.8 L898.7,650.3 L899.2,648.7 L899.7,647.1 L900.1,645.5 L900.6,643.9 L901.0,642.3 L901.5,640.6 L901.9,638.8 L902.3,637.1 L902.8,635.3 L903.2,633.5 L903.6,631.7 L903.9,629.8 L904.3,627.9 L904.7,626.0 L905.0,624.1 L905.4,622.1 L905.7,620.1 L906.0,618.1 L906.3,616.1 L906.6,614.0 L906.9,611.9 L907.1,609.8 L907.4,607.6 L907.6,605.5 L907.8,603.3 L908.0,601.0 L908.1,598.8 L908.3,596.5 L908.4,594.2 L908.7,591.9 L908.9,589.6 L909.0,587.2 L909.2,584.8 L909.3,582.4 L909.4,580.0 L909.4,578.2 L909.5,576.4 L909.6,574.5 L909.7,572.7 L909.7,570.9 L909.7,569.0 L909.8,567.2 L909.7,565.3 L909.7,563.5 L909.7,561.6 L909.7,559.7 L909.6,557.8 L909.6,555.9 L909.5,553.9 L909.4,552.0 L909.3,550.0 L909.3,548.0 L909.1,546.0 L909.0,544.0 L908.9,542.0 L908.8,539.9 L908.6,537.8 L908.4,535.7 L908.3,533.5 L908.1,531.3 L907.8,529.1 L907.6,526.9 L907.3,524.6 L907.1,522.3 L906.8,520.0 L906.5,517.6 L906.1,515.2 L905.8,512.7 L905.5,511.0 L905.1,509.2 L904.7,507.4 L904.2,505.6 L903.7,503.8 L903.1,502.0 L902.4,500.2 L901.6,498.4 L900.8,496.6 L899.9,494.9 L898.9,493.2 L897.9,491.5 L896.7,489.8 L895.5,488.2 L894.2,486.6 L892.9,485.1 L891.4,483.6 L889.9,482.2 L888.2,480.9 L886.5,479.6 L884.7,478.5 L882.8,477.4 L880.7,476.4 L878.8,475.6 L876.8,474.9 L874.8,474.2 L872.9,473.5 L870.9,472.8 L868.8,472.2 L866.8,471.6 L864.7,471.0 L862.7,470.4 L860.6,469.9 L858.5,469.4 L856.4,468.9 L854.4,468.4 L852.3,467.9 L850.2,467.5 L848.1,467.0 L846.0,466.6 L844.0,466.3 L841.9,465.9 L839.9,465.5 L837.8,465.2 L835.8,464.9 L833.8,464.6 L831.9,464.3 L829.9,464.1 L828.0,463.8 L826.1,463.6 L824.3,463.4 L822.4,463.2 L820.6,463.0 L818.9,462.9 L817.3,462.7 L816.0,462.4 L814.6,461.8 L813.3,461.1 L811.9,460.3 L810.4,459.3 L808.9,458.3 L807.4,457.2 L805.7,456.0 L804.0,454.8 L802.1,453.6 L800.1,452.4 L798.0,451.3 L795.7,450.3 L793.7,449.6 L791.9,448.9 L790.0,448.2 L788.1,447.5 L786.2,446.8 L784.3,446.1 L782.5,445.4 L780.6,444.7 L778.7,444.0 L776.8,443.3 L774.9,442.5 L773.0,441.8 L771.2,441.1 L769.3,440.4 L767.4,439.7 L765.5,439.0 L763.6,438.3 L761.7,437.6 L759.9,436.9 L758.0,436.2 L756.1,435.5 L754.2,434.8 L752.3,434.1 L750.5,433.4 L748.6,432.7 L746.7,432.0 L744.8,431.3 L742.9,430.6 L741.0,430.0 L739.1,429.3 L737.2,428.7 L735.3,428.0 L733.4,427.4 L731.4,426.7 L729.4,426.2 L727.5,425.7 L725.6,425.2 L723.6,424.7 L721.7,424.2 L719.7,423.7 L717.8,423.2 L715.9,422.6 L713.9,422.0 L712.0,421.5 L710.1,420.9 L708.2,420.4 L706.2,419.8 L704.3,419.3 L702.4,418.7 L700.5,418.2 L698.5,417.6 L696.6,417.0 L694.7,416.5 L692.8,415.9 L690.8,415.4 L688.9,414.8 L687.0,414.3 L685.1,413.7 L683.1,413.2 L681.2,412.6 L679.3,412.0Z"/><circle cx="679.0" cy="413.0" r="1.00"/><circle cx="897.0" cy="653.0" r="0.80"/><path d="M869.7,426.5 L871.7,426.9 L873.7,427.4 L875.7,427.8 L877.7,428.3 L879.7,428.8 L881.7,429.2 L883.7,429.7 L885.7,430.1 L887.7,430.6 L889.7,431.0 L891.7,431.4 L893.7,431.9 L895.7,432.3 L897.7,432.7 L899.7,433.2 L901.7,433.6 L903.7,434.0 L905.7,434.5 L907.7,434.9 L909.7,435.3 L911.7,435.7 L913.7,436.1 L915.7,436.6 L917.7,437.0 L919.7,437.4 L921.7,437.8 L923.7,438.2 L925.7,438.6 L927.7,439.0 L929.7,439.4 L931.7,439.8 L933.7,440.2 L935.7,440.7 L937.7,441.1 L939.7,441.5 L941.7,441.9 L943.7,442.3 L945.7,442.7 L947.7,443.1 L949.7,443.5 L951.7,443.9 L953.7,444.3 L955.7,444.8 L957.7,445.2 L959.6,445.6 L962.3,446.4 L964.9,447.1 L967.4,447.9 L970.0,448.7 L972.4,449.4 L974.8,450.2 L977.2,450.9 L979.5,451.7 L981.7,452.4 L983.9,453.1 L986.0,453.9 L988.1,454.6 L990.1,455.4 L992.1,456.1 L994.0,456.9 L995.9,457.6 L997.6,458.4 L999.4,459.1 L1001.1,459.9 L1002.7,460.7 L1004.3,461.5 L1005.8,462.3 L1007.2,463.1 L1008.6,463.9 L1010.0,464.7 L1011.3,465.5 L1012.5,466.3 L1013.7,467.1 L1014.8,468.0 L1015.8,468.8 L1016.8,469.6 L1017.8,470.5 L1018.7,471.3 L1019.5,472.3 L1020.4,473.2 L1021.2,474.2 L1022.0,475.3 L1022.8,476.5 L1023.6,477.7 L1024.4,479.0 L1025.1,480.3 L1025.8,481.7 L1026.5,483.1 L1027.2,484.6 L1027.9,486.2 L1028.6,487.8 L1029.2,489.5 L1029.8,491.3 L1030.4,493.1 L1031.0,495.0 L1031.6,496.9 L1032.2,498.9 L1032.7,500.9 L1033.2,503.1 L1033.8,505.2 L1034.2,507.5 L1034.7,509.8 L1035.2,512.1 L1035.7,514.5 L1036.1,517.0 L1036.5,519.5 L1036.9,522.1 L1037.3,524.8 L1037.7,527.5 L1038.1,530.2 L1038.3,532.7 L1038.5,535.2 L1038.7,537.6 L1038.9,540.0 L1039.1,542.2 L1039.2,544.5 L1039.4,546.7 L1039.5,548.8 L1039.7,550.9 L1039.8,553.0 L1039.9,555.0 L1040.1,556.9 L1040.2,558.9 L1040.3,560.8 L1040.4,562.7 L1040.5,564.5 L1040.6,566.4 L1040.7,568.2 L1040.7,570.0 L1040.8,571.8 L1040.9,573.6 L1040.9,575.4 L1041.0,577.1 L1041.0,578.9 L1041.0,580.7 L1041.1,582.5 L1041.1,584.3 L1041.1,586.2 L1041.1,588.0 L1044.9,588.0 L1044.9,586.1 L1044.9,584.3 L1044.9,582.5 L1044.8,580.7 L1044.8,578.9 L1044.8,577.1 L1044.7,575.3 L1044.7,573.5 L1044.6,571.7 L1044.5,569.8 L1044.5,568.0 L1044.4,566.2 L1044.3,564.3 L1044.2,562.5 L1044.1,560.6 L1044.0,558.7 L1043.9,556.7 L1043.7,554.7 L1043.6,552.7 L1043.5,550.6 L1043.3,548.5 L1043.2,546.4 L1043.0,544.2 L1042.8,542.0 L1042.7,539.7 L1042.5,537.3 L1042.3,534.9 L1042.1,532.4 L1041.9,529.8 L1041.5,527.0 L1041.1,524.2 L1040.7,521.5 L1040.3,518.9 L1039.8,516.3 L1039.4,513.8 L1038.9,511.4 L1038.5,509.0 L1038.0,506.7 L1037.5,504.4 L1036.9,502.2 L1036.4,500.0 L1035.8,497.9 L1035.3,495.8 L1034.7,493.8 L1034.1,491.9 L1033.4,490.0 L1032.8,488.2 L1032.1,486.4 L1031.4,484.7 L1030.7,483.1 L1030.0,481.5 L1029.2,480.0 L1028.5,478.5 L1027.7,477.0 L1026.8,475.7 L1026.0,474.4 L1025.1,473.1 L1024.2,471.9 L1023.3,470.8 L1022.3,469.7 L1021.3,468.7 L1020.4,467.7 L1019.3,466.8 L1018.2,465.8 L1017.1,464.9 L1015.9,464.0 L1014.6,463.2 L1013.3,462.3 L1012.0,461.4 L1010.5,460.6 L1009.1,459.7 L1007.6,458.9 L1006.0,458.1 L1004.4,457.3 L1002.7,456.5 L1000.9,455.7 L999.2,454.9 L997.3,454.1 L995.4,453.3 L993.5,452.6 L991.5,451.8 L989.4,451.0 L987.3,450.3 L985.1,449.5 L982.9,448.8 L980.6,448.0 L978.3,447.3 L975.9,446.6 L973.5,445.9 L971.0,445.2 L968.4,444.5 L965.8,443.8 L963.1,443.1 L960.4,442.4 L958.3,442.0 L956.3,441.6 L954.3,441.3 L952.3,440.9 L950.3,440.5 L948.3,440.1 L946.3,439.7 L944.3,439.3 L942.3,438.9 L940.3,438.5 L938.3,438.1 L936.3,437.7 L934.3,437.3 L932.3,436.9 L930.3,436.5 L928.3,436.1 L926.3,435.7 L924.3,435.3 L922.3,434.9 L920.3,434.4 L918.3,434.0 L916.3,433.6 L914.3,433.2 L912.3,432.8 L910.3,432.4 L908.3,431.9 L906.3,431.5 L904.3,431.1 L902.3,430.7 L900.3,430.2 L898.3,429.8 L896.3,429.4 L894.3,428.9 L892.3,428.5 L890.3,428.1 L888.3,427.6 L886.3,427.2 L884.3,426.7 L882.3,426.3 L880.3,425.8 L878.3,425.4 L876.3,424.9 L874.3,424.5 L872.3,424.0 L870.3,423.5Z"/><circle cx="870.0" cy="425.0" r="1.50"/><circle cx="1043.0" cy="588.0" r="1.90"/><path d="M940.6,392.9 L943.2,394.0 L945.6,395.1 L947.9,396.1 L950.1,397.0 L952.2,397.9 L954.2,398.8 L956.1,399.5 L957.9,400.2 L959.6,401.0 L961.3,401.6 L963.0,402.2 L964.6,402.7 L966.2,403.1 L967.8,403.4 L969.3,403.7 L970.9,403.8 L972.5,404.1 L974.3,404.3 L976.1,404.6 L977.9,404.9 L979.8,405.3 L981.7,405.7 L983.6,406.1 L985.6,406.5 L987.6,406.8 L989.6,407.2 L991.7,407.7 L993.7,408.1 L995.8,408.6 L997.8,409.0 L999.9,409.5 L1001.9,410.1 L1003.9,410.6 L1006.0,411.2 L1008.0,411.8 L1010.0,412.4 L1011.9,413.0 L1013.8,413.6 L1015.7,414.3 L1017.5,415.0 L1019.3,415.7 L1021.7,416.6 L1023.9,417.6 L1026.1,418.6 L1028.2,419.6 L1030.2,420.6 L1032.2,421.7 L1034.1,422.7 L1035.9,423.8 L1037.6,424.9 L1039.3,426.0 L1040.9,427.2 L1042.4,428.3 L1043.8,429.5 L1045.2,430.7 L1046.6,431.9 L1047.8,433.1 L1049.0,434.3 L1050.2,435.6 L1051.2,436.8 L1052.2,438.1 L1053.2,439.4 L1054.1,440.7 L1054.9,442.1 L1055.7,443.4 L1056.4,444.8 L1057.2,446.4 L1057.9,448.1 L1058.6,449.8 L1059.3,451.5 L1059.9,453.2 L1060.5,455.0 L1061.1,456.8 L1061.6,458.6 L1062.1,460.4 L1062.6,462.2 L1063.0,464.1 L1063.4,466.0 L1063.8,467.9 L1064.2,469.8 L1064.5,471.8 L1064.8,473.7 L1065.1,475.7 L1065.4,477.7 L1065.6,479.7 L1065.8,481.7 L1066.0,483.7 L1066.2,485.7 L1066.4,487.8 L1066.6,489.8 L1066.9,491.8 L1067.1,493.9 L1067.3,496.0 L1067.4,498.0 L1067.6,500.0 L1067.6,502.1 L1067.6,504.3 L1067.6,506.5 L1067.5,508.7 L1067.5,510.9 L1067.4,513.1 L1067.3,515.3 L1067.2,517.4 L1067.0,519.6 L1066.9,521.8 L1066.7,523.9 L1066.5,526.1 L1066.3,528.2 L1066.1,530.4 L1065.9,532.5 L1065.7,534.6 L1065.5,536.7 L1065.2,538.8 L1065.0,540.9 L1064.7,543.0 L1064.5,545.0 L1064.2,547.1 L1063.9,549.1 L1063.7,551.2 L1063.4,553.2 L1063.1,555.2 L1062.8,557.1 L1062.5,559.1 L1062.2,561.0 L1061.9,563.0 L1061.6,564.9 L1061.2,566.8 L1060.9,568.6 L1060.6,570.5 L1060.2,572.3 L1059.9,574.1 L1059.5,575.9 L1059.2,577.7 L1058.8,579.4 L1058.5,581.1 L1058.1,582.8 L1059.9,583.2 L1060.2,581.5 L1060.6,579.8 L1061.0,578.0 L1061.3,576.2 L1061.7,574.5 L1062.0,572.6 L1062.3,570.8 L1062.7,568.9 L1063.0,567.1 L1063.3,565.2 L1063.7,563.3 L1064.0,561.3 L1064.3,559.4 L1064.6,557.4 L1064.9,555.4 L1065.2,553.4 L1065.5,551.4 L1065.7,549.4 L1066.0,547.3 L1066.3,545.3 L1066.5,543.2 L1066.8,541.1 L1067.0,539.0 L1067.2,536.9 L1067.5,534.8 L1067.7,532.7 L1067.9,530.5 L1068.1,528.4 L1068.3,526.2 L1068.5,524.1 L1068.7,521.9 L1068.8,519.7 L1069.0,517.6 L1069.1,515.4 L1069.3,513.2 L1069.5,511.0 L1069.7,508.8 L1069.9,506.6 L1070.1,504.4 L1070.2,502.2 L1070.4,500.0 L1070.3,497.9 L1070.3,495.8 L1070.2,493.7 L1070.2,491.6 L1070.1,489.5 L1070.0,487.5 L1069.8,485.4 L1069.6,483.4 L1069.4,481.3 L1069.2,479.3 L1068.9,477.2 L1068.7,475.2 L1068.4,473.2 L1068.1,471.2 L1067.7,469.2 L1067.4,467.2 L1067.0,465.3 L1066.5,463.3 L1066.1,461.4 L1065.6,459.5 L1065.1,457.6 L1064.5,455.7 L1063.9,453.8 L1063.3,452.0 L1062.7,450.2 L1062.0,448.4 L1061.2,446.6 L1060.4,444.9 L1059.6,443.2 L1058.8,441.7 L1058.0,440.2 L1057.1,438.8 L1056.1,437.4 L1055.1,436.0 L1054.0,434.6 L1052.9,433.2 L1051.6,431.9 L1050.4,430.5 L1049.0,429.2 L1047.6,428.0 L1046.1,426.7 L1044.6,425.5 L1043.0,424.3 L1041.3,423.1 L1039.6,421.9 L1037.8,420.8 L1035.9,419.6 L1033.9,418.5 L1031.9,417.4 L1029.8,416.4 L1027.6,415.3 L1025.4,414.3 L1023.1,413.3 L1020.7,412.3 L1018.8,411.6 L1016.9,410.9 L1015.0,410.2 L1013.0,409.6 L1011.0,408.9 L1009.0,408.3 L1007.0,407.7 L1004.9,407.1 L1002.8,406.6 L1000.7,406.0 L998.7,405.5 L996.6,405.0 L994.5,404.6 L992.4,404.1 L990.3,403.7 L988.3,403.3 L986.2,402.9 L984.2,402.6 L982.2,402.3 L980.3,402.1 L978.4,401.9 L976.5,401.7 L974.7,401.5 L972.9,401.3 L971.1,401.2 L969.6,401.1 L968.2,400.9 L966.7,400.6 L965.2,400.3 L963.6,399.9 L962.0,399.5 L960.4,399.0 L958.6,398.4 L956.8,397.7 L954.9,396.9 L952.9,396.1 L950.9,395.2 L948.7,394.2 L946.4,393.2 L944.0,392.2 L941.4,391.1Z"/><circle cx="941.0" cy="392.0" r="1.00"/><circle cx="1059.0" cy="583.0" r="0.90"/><path d="M1071.7,386.0 L1073.7,386.6 L1075.6,387.2 L1077.6,387.9 L1079.7,388.5 L1081.7,389.2 L1083.7,389.9 L1085.8,390.7 L1087.8,391.4 L1089.8,392.1 L1091.8,392.8 L1093.8,393.5 L1095.7,394.2 L1097.6,394.9 L1099.5,395.7 L1101.3,396.4 L1103.1,397.0 L1104.8,397.7 L1106.4,398.3 L1108.1,398.8 L1109.6,399.4 L1111.0,399.7 L1112.3,400.1 L1113.7,400.5 L1115.2,400.8 L1116.7,401.2 L1118.3,401.5 L1119.8,401.9 L1121.5,402.2 L1123.1,402.6 L1124.9,402.9 L1126.6,403.2 L1128.4,403.5 L1130.2,403.9 L1132.1,404.2 L1134.0,404.5 L1136.0,404.9 L1137.9,405.2 L1139.9,405.6 L1142.0,406.0 L1144.1,406.3 L1146.2,406.8 L1148.3,407.2 L1150.5,407.6 L1152.7,408.1 L1154.9,408.5 L1157.1,409.0 L1159.4,409.6 L1161.7,410.1 L1164.0,410.7 L1166.4,411.3 L1168.8,411.9 L1171.2,412.6 L1173.6,413.3 L1176.0,414.0 L1178.3,414.7 L1179.6,415.5 L1181.0,416.5 L1182.3,417.6 L1183.5,418.9 L1184.7,420.2 L1185.7,421.6 L1186.6,423.1 L1187.5,424.7 L1188.3,426.4 L1189.1,428.2 L1189.7,430.0 L1190.4,431.9 L1190.9,433.9 L1191.4,436.0 L1191.8,438.1 L1192.2,440.3 L1192.4,442.2 L1192.6,444.2 L1192.8,446.2 L1193.0,448.2 L1193.1,450.1 L1193.3,452.1 L1193.4,454.1 L1193.6,456.1 L1193.7,458.1 L1193.8,460.1 L1194.0,462.1 L1194.1,464.1 L1194.2,466.1 L1194.2,468.1 L1194.3,470.1 L1194.4,472.1 L1194.5,474.0 L1194.5,476.0 L1194.5,478.0 L1194.6,480.0 L1194.6,482.0 L1194.6,484.0 L1194.6,486.0 L1194.6,488.0 L1194.6,490.0 L1194.6,492.0 L1194.6,494.0 L1194.6,495.9 L1194.6,497.9 L1194.6,499.9 L1194.5,502.5 L1194.4,505.0 L1194.2,507.5 L1194.2,510.0 L1194.0,512.4 L1193.9,514.9 L1193.7,517.3 L1193.4,519.6 L1193.2,522.0 L1192.9,524.3 L1192.7,526.5 L1192.4,528.8 L1192.1,531.0 L1191.8,533.2 L1191.5,535.3 L1191.2,537.4 L1190.9,539.5 L1190.6,541.5 L1190.2,543.5 L1189.9,545.4 L1189.6,547.4 L1189.2,549.2 L1188.9,551.1 L1188.5,552.9 L1188.1,554.6 L1187.8,556.3 L1187.4,558.0 L1187.0,559.6 L1186.6,561.2 L1186.2,562.7 L1185.8,564.2 L1185.4,565.7 L1185.0,567.1 L1184.6,568.4 L1184.1,569.7 L1185.9,570.3 L1186.3,569.0 L1186.7,567.6 L1187.1,566.2 L1187.5,564.7 L1187.9,563.2 L1188.4,561.7 L1188.7,560.1 L1189.1,558.4 L1189.5,556.7 L1189.9,555.0 L1190.3,553.2 L1190.6,551.4 L1191.0,549.6 L1191.3,547.7 L1191.7,545.8 L1192.0,543.8 L1192.4,541.8 L1192.7,539.7 L1193.0,537.7 L1193.3,535.5 L1193.6,533.4 L1193.9,531.2 L1194.2,529.0 L1194.4,526.8 L1194.7,524.5 L1195.0,522.2 L1195.2,519.8 L1195.5,517.4 L1195.7,515.0 L1196.0,512.6 L1196.3,510.2 L1196.6,507.7 L1196.9,505.2 L1197.2,502.7 L1197.4,500.1 L1197.6,498.1 L1197.7,496.1 L1197.8,494.0 L1198.0,492.0 L1198.1,490.0 L1198.2,488.0 L1198.2,486.0 L1198.2,484.0 L1198.2,482.0 L1198.2,480.0 L1198.1,478.0 L1198.1,476.0 L1198.1,474.0 L1198.0,471.9 L1197.9,469.9 L1197.8,467.9 L1197.8,465.9 L1197.7,463.9 L1197.5,461.9 L1197.4,459.9 L1197.3,457.9 L1197.2,455.9 L1197.0,453.9 L1196.9,451.9 L1196.7,449.9 L1196.5,447.8 L1196.4,445.8 L1196.2,443.8 L1196.0,441.8 L1195.8,439.7 L1195.4,437.4 L1194.9,435.2 L1194.4,433.0 L1193.8,430.9 L1193.2,428.8 L1192.4,426.8 L1191.6,424.9 L1190.7,423.1 L1189.7,421.3 L1188.7,419.6 L1187.5,417.9 L1186.2,416.4 L1184.8,415.0 L1183.3,413.7 L1181.6,412.5 L1179.7,411.3 L1177.0,410.5 L1174.6,409.8 L1172.1,409.1 L1169.7,408.4 L1167.3,407.8 L1164.9,407.2 L1162.6,406.6 L1160.2,406.1 L1157.9,405.5 L1155.6,405.0 L1153.4,404.5 L1151.2,404.1 L1149.0,403.6 L1146.8,403.2 L1144.7,402.8 L1142.6,402.4 L1140.6,402.0 L1138.6,401.7 L1136.6,401.3 L1134.6,401.0 L1132.7,400.6 L1130.9,400.3 L1129.0,400.0 L1127.2,399.7 L1125.5,399.4 L1123.8,399.1 L1122.1,398.9 L1120.5,398.6 L1118.9,398.3 L1117.3,398.0 L1115.9,397.8 L1114.4,397.5 L1113.0,397.2 L1111.7,396.9 L1110.4,396.6 L1108.9,396.2 L1107.3,395.8 L1105.6,395.2 L1103.8,394.7 L1102.1,394.2 L1100.2,393.6 L1098.3,393.0 L1096.4,392.3 L1094.4,391.6 L1092.5,390.9 L1090.5,390.2 L1088.4,389.5 L1086.4,388.8 L1084.4,388.1 L1082.3,387.4 L1080.3,386.7 L1078.3,386.0 L1076.3,385.3 L1074.3,384.7 L1072.3,384.0Z"/><circle cx="1072.0" cy="385.0" r="1.00"/><circle cx="1185.0" cy="570.0" r="0.90"/><path d="M1171.8,375.0 L1174.0,375.3 L1176.2,375.7 L1178.5,376.0 L1180.7,376.3 L1183.0,376.7 L1185.2,377.0 L1187.4,377.4 L1189.6,377.7 L1191.7,378.1 L1193.8,378.5 L1195.8,378.9 L1197.8,379.3 L1199.7,379.7 L1201.5,380.1 L1203.2,380.5 L1204.8,381.0 L1206.3,381.5 L1207.6,381.9 L1209.6,382.8 L1211.5,383.9 L1213.3,385.0 L1215.0,386.1 L1216.6,387.3 L1218.2,388.5 L1219.8,389.6 L1221.3,390.6 L1222.9,391.5 L1224.7,392.3 L1226.7,392.6 L1228.5,392.8 L1230.4,393.0 L1232.3,393.3 L1234.2,393.5 L1236.2,393.8 L1238.3,394.0 L1240.3,394.3 L1242.4,394.5 L1244.5,394.7 L1246.6,394.9 L1248.7,395.1 L1250.9,395.3 L1253.0,395.5 L1255.1,395.8 L1257.3,396.0 L1259.4,396.3 L1261.5,396.6 L1263.6,396.8 L1265.7,397.1 L1267.8,397.4 L1269.9,397.7 L1271.9,398.1 L1273.9,398.4 L1275.9,398.8 L1277.8,399.1 L1279.7,399.5 L1281.5,399.9 L1283.3,400.3 L1285.0,400.8 L1286.7,401.2 L1288.4,401.7 L1289.9,402.2 L1291.3,402.7 L1293.3,403.6 L1295.3,404.7 L1297.2,405.7 L1299.0,406.8 L1300.6,408.0 L1302.2,409.1 L1303.7,410.3 L1305.1,411.6 L1306.5,412.9 L1307.7,414.2 L1308.8,415.6 L1309.9,417.0 L1310.8,418.4 L1311.7,420.0 L1312.5,421.5 L1313.1,423.1 L1313.7,424.8 L1314.3,426.6 L1315.0,428.5 L1315.6,430.4 L1316.2,432.3 L1316.7,434.2 L1317.2,436.1 L1317.7,438.1 L1318.1,440.0 L1318.5,442.0 L1318.9,443.9 L1319.3,445.9 L1319.6,447.9 L1319.9,449.9 L1320.1,451.9 L1320.4,453.9 L1320.6,455.9 L1320.7,457.9 L1321.0,459.9 L1321.1,461.9 L1321.3,463.9 L1321.4,465.9 L1321.5,468.0 L1321.6,470.0 L1321.6,472.0 L1321.6,474.1 L1321.5,476.2 L1321.5,478.3 L1321.4,480.4 L1321.3,482.5 L1321.2,484.6 L1321.1,486.6 L1320.9,488.7 L1320.6,490.8 L1320.4,492.9 L1320.2,494.9 L1319.9,497.0 L1319.7,499.0 L1319.4,501.1 L1319.1,503.2 L1318.8,505.2 L1318.5,507.2 L1318.2,509.3 L1317.9,511.3 L1317.5,513.3 L1317.2,515.4 L1316.8,517.4 L1316.5,519.4 L1316.1,521.4 L1315.7,523.4 L1315.3,525.3 L1314.9,527.3 L1314.5,529.3 L1314.1,531.2 L1313.7,533.2 L1313.2,535.1 L1312.8,537.1 L1312.4,539.0 L1311.9,540.9 L1311.4,542.8 L1311.0,544.7 L1310.5,546.6 L1310.1,548.4 L1309.6,550.3 L1309.1,552.1 L1308.6,553.9 L1308.1,555.8 L1309.9,556.2 L1310.4,554.4 L1310.8,552.6 L1311.3,550.7 L1311.8,548.9 L1312.3,547.0 L1312.7,545.1 L1313.2,543.2 L1313.7,541.3 L1314.1,539.4 L1314.5,537.5 L1315.0,535.5 L1315.4,533.6 L1315.8,531.6 L1316.3,529.7 L1316.7,527.7 L1317.1,525.7 L1317.5,523.7 L1317.9,521.7 L1318.2,519.7 L1318.6,517.7 L1319.0,515.7 L1319.3,513.6 L1319.7,511.6 L1320.0,509.6 L1320.3,507.5 L1320.6,505.5 L1320.9,503.4 L1321.2,501.3 L1321.5,499.3 L1321.7,497.2 L1322.0,495.1 L1322.2,493.1 L1322.4,491.0 L1322.6,488.9 L1322.8,486.8 L1323.0,484.7 L1323.3,482.6 L1323.5,480.5 L1323.7,478.4 L1323.9,476.3 L1324.1,474.2 L1324.2,472.1 L1324.4,470.0 L1324.4,467.9 L1324.5,465.9 L1324.5,463.8 L1324.5,461.7 L1324.4,459.7 L1324.3,457.6 L1324.2,455.5 L1323.9,453.5 L1323.7,451.4 L1323.4,449.4 L1323.2,447.4 L1322.8,445.3 L1322.5,443.3 L1322.1,441.3 L1321.7,439.2 L1321.2,437.2 L1320.7,435.2 L1320.2,433.3 L1319.6,431.3 L1319.0,429.3 L1318.4,427.3 L1317.7,425.4 L1317.2,423.6 L1316.5,421.8 L1315.7,420.0 L1314.8,418.2 L1313.9,416.6 L1312.8,414.9 L1311.6,413.4 L1310.4,411.8 L1309.0,410.4 L1307.6,409.0 L1306.1,407.6 L1304.4,406.3 L1302.7,405.0 L1300.9,403.8 L1299.0,402.6 L1297.0,401.5 L1294.9,400.4 L1292.7,399.3 L1291.0,398.8 L1289.4,398.3 L1287.7,397.8 L1285.9,397.3 L1284.2,396.9 L1282.3,396.4 L1280.4,396.0 L1278.5,395.6 L1276.5,395.2 L1274.5,394.9 L1272.5,394.5 L1270.4,394.2 L1268.4,393.9 L1266.2,393.6 L1264.1,393.3 L1262.0,393.0 L1259.8,392.7 L1257.7,392.5 L1255.5,392.2 L1253.4,392.0 L1251.2,391.7 L1249.1,391.5 L1247.0,391.3 L1244.8,391.1 L1242.7,390.9 L1240.6,390.7 L1238.6,390.5 L1236.6,390.4 L1234.6,390.3 L1232.6,390.1 L1230.7,390.0 L1228.8,389.9 L1226.9,389.8 L1225.3,389.7 L1224.1,389.1 L1222.6,388.4 L1221.1,387.5 L1219.5,386.5 L1217.9,385.5 L1216.1,384.4 L1214.3,383.3 L1212.5,382.1 L1210.5,381.1 L1208.4,380.1 L1206.9,379.6 L1205.4,379.1 L1203.7,378.6 L1202.0,378.2 L1200.1,377.7 L1198.2,377.3 L1196.2,376.9 L1194.2,376.5 L1192.0,376.1 L1189.9,375.8 L1187.7,375.4 L1185.5,375.0 L1183.3,374.7 L1181.0,374.4 L1178.8,374.0 L1176.5,373.7 L1174.3,373.3 L1172.2,373.0Z"/><circle cx="1172.0" cy="374.0" r="1.00"/><circle cx="1309.0" cy="556.0" r="0.90"/><path d="M485.7,472.9 L487.6,473.6 L489.5,474.3 L491.4,474.9 L493.3,475.6 L495.2,476.2 L497.2,476.9 L499.1,477.5 L501.0,478.2 L502.9,478.8 L504.8,479.5 L506.7,480.1 L508.6,480.8 L510.5,481.4 L512.5,482.1 L514.4,482.7 L516.3,483.4 L518.2,484.0 L520.1,484.7 L522.0,485.4 L523.9,486.1 L525.8,486.8 L527.7,487.5 L529.6,488.2 L531.6,488.9 L533.6,489.5 L535.6,490.2 L537.6,490.9 L539.6,491.6 L541.6,492.2 L543.5,492.9 L545.5,493.6 L547.5,494.2 L549.5,494.9 L551.5,495.5 L553.5,496.1 L555.5,496.8 L557.6,497.4 L560.3,498.2 L562.8,499.1 L565.2,499.9 L567.4,500.8 L569.5,501.7 L571.4,502.6 L573.3,503.6 L575.0,504.6 L576.5,505.6 L578.0,506.6 L579.3,507.7 L580.5,508.7 L581.7,509.8 L582.7,510.9 L583.7,512.2 L584.8,513.3 L585.8,514.4 L586.8,515.6 L587.7,516.9 L588.6,518.2 L589.5,519.6 L590.3,521.1 L591.1,522.6 L591.9,524.2 L592.6,525.9 L593.4,527.7 L594.1,529.5 L594.8,531.5 L595.4,533.5 L596.0,535.7 L596.6,537.9 L597.1,540.3 L597.6,542.7 L598.1,545.3 L598.2,547.1 L598.4,549.1 L598.5,551.1 L598.7,553.1 L598.8,555.1 L599.0,557.1 L599.1,559.1 L599.2,561.1 L599.4,563.1 L599.5,565.1 L599.7,567.1 L599.8,569.1 L600.0,571.1 L600.1,573.1 L600.2,575.1 L600.5,577.1 L600.7,579.1 L600.9,581.1 L601.1,583.1 L601.3,585.1 L601.6,587.1 L601.8,589.1 L601.9,591.1 L602.1,593.2 L602.3,595.2 L602.5,597.3 L602.7,599.3 L602.9,601.3 L603.0,603.4 L603.1,605.4 L603.3,607.4 L603.4,609.5 L603.5,611.5 L603.6,613.6 L603.7,615.6 L603.8,617.6 L603.9,619.7 L604.1,621.7 L604.2,623.7 L604.3,625.8 L604.4,627.8 L604.5,629.9 L604.6,631.9 L604.8,633.9 L604.9,636.0 L605.0,638.0 L605.1,640.0 L605.1,642.5 L605.0,644.9 L604.9,647.2 L604.8,649.5 L604.6,651.8 L604.4,654.0 L604.2,656.2 L603.9,658.3 L603.6,660.4 L603.3,662.4 L603.0,664.4 L602.6,666.3 L602.2,668.2 L601.8,670.1 L601.4,671.9 L601.0,673.7 L600.5,675.5 L600.1,677.2 L599.6,678.8 L599.1,680.5 L598.6,682.1 L598.1,683.7 L597.6,685.2 L597.1,686.7 L598.9,687.3 L599.4,685.8 L599.9,684.2 L600.4,682.6 L600.8,681.0 L601.3,679.3 L601.8,677.6 L602.3,675.9 L602.7,674.1 L603.2,672.3 L603.6,670.5 L604.0,668.6 L604.4,666.7 L604.8,664.7 L605.1,662.7 L605.4,660.6 L605.7,658.5 L606.0,656.4 L606.2,654.2 L606.4,651.9 L606.6,649.7 L606.7,647.3 L606.8,644.9 L606.9,642.5 L606.9,640.0 L606.8,637.9 L606.7,635.9 L606.6,633.8 L606.4,631.8 L606.3,629.8 L606.2,627.7 L606.1,625.7 L606.0,623.6 L605.9,621.6 L605.7,619.6 L605.6,617.5 L605.5,615.5 L605.4,613.4 L605.3,611.4 L605.2,609.4 L605.1,607.3 L604.9,605.3 L604.8,603.3 L604.7,601.2 L604.7,599.2 L604.6,597.1 L604.6,595.1 L604.6,593.0 L604.5,591.0 L604.5,589.0 L604.4,586.9 L604.4,584.9 L604.3,582.9 L604.2,580.9 L604.2,578.9 L604.1,576.9 L604.0,574.9 L603.9,572.9 L603.8,570.9 L603.6,568.9 L603.5,566.9 L603.3,564.9 L603.2,562.9 L603.0,560.9 L602.9,558.9 L602.8,556.9 L602.6,554.9 L602.5,552.9 L602.3,550.9 L602.2,548.9 L602.0,546.9 L601.9,544.7 L601.4,542.0 L600.8,539.5 L600.3,537.0 L599.7,534.7 L599.0,532.4 L598.4,530.3 L597.7,528.2 L596.9,526.3 L596.1,524.4 L595.3,522.6 L594.4,520.9 L593.5,519.2 L592.6,517.7 L591.6,516.2 L590.6,514.8 L589.5,513.5 L588.5,512.2 L587.3,511.0 L586.3,509.8 L585.2,508.7 L584.0,507.5 L582.7,506.3 L581.3,505.2 L579.8,504.1 L578.2,503.0 L576.5,501.9 L574.7,500.9 L572.8,499.9 L570.7,499.0 L568.5,498.0 L566.2,497.1 L563.8,496.2 L561.2,495.4 L558.4,494.6 L556.5,493.9 L554.5,493.3 L552.5,492.6 L550.5,492.0 L548.5,491.4 L546.5,490.7 L544.5,490.1 L542.4,489.5 L540.4,488.9 L538.4,488.3 L536.4,487.6 L534.4,487.0 L532.4,486.4 L530.4,485.8 L528.5,485.2 L526.5,484.6 L524.6,484.0 L522.7,483.4 L520.8,482.8 L518.8,482.1 L516.9,481.5 L515.0,480.8 L513.1,480.2 L511.2,479.5 L509.3,478.9 L507.4,478.2 L505.5,477.6 L503.5,476.9 L501.6,476.3 L499.7,475.6 L497.8,475.0 L495.9,474.3 L494.0,473.7 L492.1,473.0 L490.1,472.4 L488.2,471.7 L486.3,471.1Z"/><circle cx="486.0" cy="472.0" r="1.00"/><circle cx="598.0" cy="687.0" r="0.90"/></g>
<g fill="none" stroke="#1a1a1a" stroke-width="1.3"><path d="M242,157 L242.5,342"/><path d="M116,232 L366,222.5"/><path d="M197.5,272 L354,262.5"/><path d="M1233.7,149.5 L1233.5,366"/><path d="M1445,175.5 L1435,438"/><path d="M116,605 L251,589"/><path d="M324,668 L433,658"/><path d="M329,731 L593,700"/><path d="M392,647 L588,748"/><path d="M1039,641 L1147,687"/></g>
<g fill="none" stroke="#e41f26" stroke-width="4.5" stroke-linejoin="miter"><path d="M242,157 L1232.5,150 L1445,175.5"/><path d="M116,232 L116,605 L329,731"/><path d="M197.5,272 L197.5,596 L324,668"/><path d="M321,360 L321,631"/><path d="M392,557 L483,551"/><path d="M334,318 L357,318"/><path d="M404,335 L522,307"/><path d="M498,281 L566,429"/><path d="M378,261 L792,243"/><path d="M577,230 L602,418 L844,491"/><path d="M582,512 L844,491 L1027,478"/><path d="M844,491 L844,681"/><path d="M806,267.5 L1160,255"/><path d="M1173,371 L1232,367"/><path d="M1198,371 L1393,410"/><path d="M960,445 L1420,410"/><path d="M870,394 L1030,438"/><path d="M588,748 L1147,687"/><path d="M1382,550 L1382,563"/></g>
<g fill="#231f20" font-family="Liberation Sans, sans-serif"><g transform="translate(655.5,144) rotate(0)"><text x="-1.45" y="0" font-weight="bold" font-size="43" textLength="69.62" lengthAdjust="spacingAndGlyphs">262</text></g><g transform="translate(1286.9,144.9) rotate(6.6)"><text x="-1.40" y="0" font-weight="bold" font-size="43" textLength="44.85" lengthAdjust="spacingAndGlyphs">90</text></g><g transform="translate(600.7,243.4) rotate(-2.6)"><text x="-3.04" y="0" font-weight="bold" font-size="43" textLength="69.33" lengthAdjust="spacingAndGlyphs"> 0 </text><path transform="translate(-3.04,0) scale(0.02029,-0.02100)" d="M475,0 L760,0 L760,1409 L525,1409 L150,1185 L205,1000 L475,1150 Z"/><path transform="translate(43.18,0) scale(0.02029,-0.02100)" d="M475,0 L760,0 L760,1409 L525,1409 L150,1185 L205,1000 L475,1150 Z"/></g><g transform="translate(931,254.9) rotate(-2.66)"><text x="-3.06" y="0" font-weight="bold" font-size="43" textLength="69.81" lengthAdjust="spacingAndGlyphs"> 0 </text><path transform="translate(-3.06,0) scale(0.02043,-0.02100)" d="M475,0 L760,0 L760,1409 L525,1409 L150,1185 L205,1000 L475,1150 Z"/><path transform="translate(43.47,0) scale(0.02043,-0.02100)" d="M475,0 L760,0 L760,1409 L525,1409 L150,1185 L205,1000 L475,1150 Z"/></g><g transform="translate(263.8,314.2) rotate(-2.6)"><text x="-3.02" y="0" font-weight="bold" font-size="43" textLength="45.85" lengthAdjust="spacingAndGlyphs">  </text><path transform="translate(-3.02,0) scale(0.02013,-0.02100)" d="M475,0 L760,0 L760,1409 L525,1409 L150,1185 L205,1000 L475,1150 Z"/><path transform="translate(19.90,0) scale(0.02013,-0.02100)" d="M475,0 L760,0 L760,1409 L525,1409 L150,1185 L205,1000 L475,1150 Z"/></g><g transform="translate(394,329.6) rotate(-15)"><text x="-0.93" y="0" font-weight="bold" font-size="43" textLength="45.26" lengthAdjust="spacingAndGlyphs">32</text></g><g transform="translate(523,326.2) rotate(64)"><text x="-0.90" y="0" font-weight="bold" font-size="43" textLength="43.46" lengthAdjust="spacingAndGlyphs">32</text></g><g transform="translate(596.6,276.2) rotate(84.3)"><text x="-0.62" y="0" font-weight="bold" font-size="43" textLength="45.60" lengthAdjust="spacingAndGlyphs">43</text></g><g transform="translate(107,469.5) rotate(-90)"><text x="-1.35" y="0" font-weight="bold" font-size="43" textLength="47.14" lengthAdjust="spacingAndGlyphs">82</text></g><g transform="translate(187.3,498.6) rotate(-90)"><text x="-1.75" y="0" font-weight="bold" font-size="43" textLength="45.28" lengthAdjust="spacingAndGlyphs">72</text></g><g transform="translate(313.9,550.8) rotate(-90)"><text x="-1.28" y="0" font-weight="bold" font-size="43" textLength="46.45" lengthAdjust="spacingAndGlyphs">55</text></g><g transform="translate(380.8,544.6) rotate(-2.5)"><text x="-1.46" y="0" font-weight="bold" font-size="43" textLength="46.95" lengthAdjust="spacingAndGlyphs">22</text></g><g transform="translate(662.5,427.9) rotate(15.3)"><text x="-3.01" y="0" font-weight="bold" font-size="43" textLength="68.49" lengthAdjust="spacingAndGlyphs"> 06</text><path transform="translate(-3.01,0) scale(0.02004,-0.02100)" d="M475,0 L760,0 L760,1409 L525,1409 L150,1185 L205,1000 L475,1150 Z"/></g><g transform="translate(619,497.5) rotate(-2.8)"><text x="-3.06" y="0" font-weight="bold" font-size="43" textLength="69.78" lengthAdjust="spacingAndGlyphs"> 00</text><path transform="translate(-3.06,0) scale(0.02042,-0.02100)" d="M475,0 L760,0 L760,1409 L525,1409 L150,1185 L205,1000 L475,1150 Z"/></g><g transform="translate(851.2,535.4) rotate(90)"><text x="-0.93" y="0" font-weight="bold" font-size="43" textLength="44.97" lengthAdjust="spacingAndGlyphs">38</text></g><g transform="translate(909.6,396.7) rotate(15)"><text x="-1.27" y="0" font-weight="bold" font-size="43" textLength="45.97" lengthAdjust="spacingAndGlyphs">50</text></g><g transform="translate(1101.8,421.3) rotate(-2.25)"><text x="-2.93" y="0" font-weight="bold" font-size="43" textLength="66.85" lengthAdjust="spacingAndGlyphs"> 35</text><path transform="translate(-2.93,0) scale(0.01956,-0.02100)" d="M475,0 L760,0 L760,1409 L525,1409 L150,1185 L205,1000 L475,1150 Z"/></g><g transform="translate(1119.6,363.5) rotate(-1.5)"><text x="-0.93" y="0" font-weight="bold" font-size="43" textLength="45.16" lengthAdjust="spacingAndGlyphs">35</text></g><g transform="translate(1269.7,374.8) rotate(10)"><text x="-1.29" y="0" font-weight="bold" font-size="43" textLength="45.37" lengthAdjust="spacingAndGlyphs">83</text></g><g transform="translate(1395.8,508.5) rotate(90)"><text x="-1.43" y="0" font-weight="bold" font-size="43" textLength="57.38" lengthAdjust="spacingAndGlyphs">2,5</text></g><g transform="translate(233.5,606) rotate(32)"><text x="-1.47" y="0" font-weight="bold" font-size="43" textLength="47.21" lengthAdjust="spacingAndGlyphs">90</text></g><g transform="translate(175.8,625.2) rotate(33)"><text x="-3.06" y="0" font-weight="bold" font-size="43" textLength="69.72" lengthAdjust="spacingAndGlyphs"> 45</text><path transform="translate(-3.06,0) scale(0.02040,-0.02100)" d="M475,0 L760,0 L760,1409 L525,1409 L150,1185 L205,1000 L475,1150 Z"/></g><g transform="translate(827.8,761.6) rotate(-6.65)"><text x="-3.01" y="0" font-weight="bold" font-size="43" textLength="68.49" lengthAdjust="spacingAndGlyphs"> 23</text><path transform="translate(-3.01,0) scale(0.02004,-0.02100)" d="M475,0 L760,0 L760,1409 L525,1409 L150,1185 L205,1000 L475,1150 Z"/></g></g>
<g><path fill="#676767" d="M275.7,813 L456,813 Q484.8,813 484.8,842 L484.8,935 L246,960 L245.3,857 C262,888 295,910 343.5,912.7 C325,903 312,890 298.7,873 C290,860 280,835 275.7,813 Z"/><g fill="#fff"><path d="M331.70,817.40 L332.59,819.78 L335.12,819.89 L333.14,821.47 L333.82,823.91 L331.70,822.51 L329.58,823.91 L330.26,821.47 L328.28,819.89 L330.81,819.78Z"/><path d="M301.30,824.90 L302.19,827.28 L304.72,827.39 L302.74,828.97 L303.42,831.41 L301.30,830.01 L299.18,831.41 L299.86,828.97 L297.88,827.39 L300.41,827.28Z"/><circle cx="375.5" cy="817.8" r="1.25"/><circle cx="357.9" cy="828" r="1.25"/><path d="M388.30,823.80 L389.58,827.23 L393.25,827.39 L390.38,829.67 L391.36,833.21 L388.30,831.18 L385.24,833.21 L386.22,829.67 L383.35,827.39 L387.02,827.23Z"/><path d="M340.80,832.40 L341.69,834.78 L344.22,834.89 L342.24,836.47 L342.92,838.91 L340.80,837.51 L338.68,838.91 L339.36,836.47 L337.38,834.89 L339.91,834.78Z"/><path d="M320.00,837.10 L321.28,840.53 L324.95,840.69 L322.08,842.97 L323.06,846.51 L320.00,844.48 L316.94,846.51 L317.92,842.97 L315.05,840.69 L318.72,840.53Z"/><path d="M344.00,843.00 L344.89,845.38 L347.42,845.49 L345.44,847.07 L346.12,849.51 L344.00,848.11 L341.88,849.51 L342.56,847.07 L340.58,845.49 L343.11,845.38Z"/><circle cx="363.2" cy="842.9" r="1.25"/><path d="M370.10,838.20 L370.99,840.58 L373.52,840.69 L371.54,842.27 L372.22,844.71 L370.10,843.31 L367.98,844.71 L368.66,842.27 L366.68,840.69 L369.21,840.58Z"/><circle cx="298.5" cy="849.8" r="1.25"/><path d="M387.20,846.70 L388.09,849.08 L390.62,849.19 L388.64,850.77 L389.32,853.21 L387.20,851.81 L385.08,853.21 L385.76,850.77 L383.78,849.19 L386.31,849.08Z"/><circle cx="368.5" cy="856.7" r="1.25"/><path d="M319.00,858.40 L319.89,860.78 L322.42,860.89 L320.44,862.47 L321.12,864.91 L319.00,863.51 L316.88,864.91 L317.56,862.47 L315.58,860.89 L318.11,860.78Z"/><path d="M349.30,859.00 L350.19,861.38 L352.72,861.49 L350.74,863.07 L351.42,865.51 L349.30,864.11 L347.18,865.51 L347.86,863.07 L345.88,861.49 L348.41,861.38Z"/><path d="M357.30,859.00 L358.19,861.38 L360.72,861.49 L358.74,863.07 L359.42,865.51 L357.30,864.11 L355.18,865.51 L355.86,863.07 L353.88,861.49 L356.41,861.38Z"/><path d="M376.00,867.40 L376.89,869.78 L379.42,869.89 L377.44,871.47 L378.12,873.91 L376.00,872.51 L373.88,873.91 L374.56,871.47 L372.58,869.89 L375.11,869.78Z"/><circle cx="391.5" cy="872" r="1.25"/><path d="M306.10,868.60 L306.99,870.98 L309.52,871.09 L307.54,872.67 L308.22,875.11 L306.10,873.71 L303.98,875.11 L304.66,872.67 L302.68,871.09 L305.21,870.98Z"/><path d="M332.80,872.40 L333.69,874.78 L336.22,874.89 L334.24,876.47 L334.92,878.91 L332.80,877.51 L330.68,878.91 L331.36,876.47 L329.38,874.89 L331.91,874.78Z"/><path d="M312.50,878.20 L313.39,880.58 L315.92,880.69 L313.94,882.27 L314.62,884.71 L312.50,883.31 L310.38,884.71 L311.06,882.27 L309.08,880.69 L311.61,880.58Z"/><path d="M357.30,880.30 L358.58,883.73 L362.25,883.89 L359.38,886.17 L360.36,889.71 L357.30,887.68 L354.24,889.71 L355.22,886.17 L352.35,883.89 L356.02,883.73Z"/><path d="M380.80,886.70 L381.69,889.08 L384.22,889.19 L382.24,890.77 L382.92,893.21 L380.80,891.81 L378.68,893.21 L379.36,890.77 L377.38,889.19 L379.91,889.08Z"/><circle cx="393.6" cy="887" r="1.25"/><circle cx="333.9" cy="890.3" r="1.25"/><circle cx="339.7" cy="898.9" r="1.25"/><circle cx="361.6" cy="896.7" r="1.25"/><circle cx="256" cy="885" r="1.25"/><path d="M266.70,891.00 L267.59,893.38 L270.12,893.49 L268.14,895.07 L268.82,897.51 L266.70,896.11 L264.58,897.51 L265.26,895.07 L263.28,893.49 L265.81,893.38Z"/><path d="M256.00,899.00 L256.89,901.38 L259.42,901.49 L257.44,903.07 L258.12,905.51 L256.00,904.11 L253.88,905.51 L254.56,903.07 L252.58,901.49 L255.11,901.38Z"/><circle cx="282.1" cy="909.5" r="1.25"/><circle cx="285.3" cy="911.7" r="1.25"/><path d="M300.80,908.10 L301.69,910.48 L304.22,910.59 L302.24,912.17 L302.92,914.61 L300.80,913.21 L298.68,914.61 L299.36,912.17 L297.38,910.59 L299.91,910.48Z"/><path d="M266.70,910.80 L267.98,914.23 L271.65,914.39 L268.78,916.67 L269.76,920.21 L266.70,918.18 L263.64,920.21 L264.62,916.67 L261.75,914.39 L265.42,914.23Z"/><circle cx="317.3" cy="923.4" r="1.25"/><circle cx="419.6" cy="823.4" r="1.25"/><path d="M442.80,819.40 L443.69,821.78 L446.22,821.89 L444.24,823.47 L444.92,825.91 L442.80,824.51 L440.68,825.91 L441.36,823.47 L439.38,821.89 L441.91,821.78Z"/><circle cx="451.2" cy="830.6" r="1.25"/><path d="M466.80,827.00 L468.08,830.43 L471.75,830.59 L468.88,832.87 L469.86,836.41 L466.80,834.38 L463.74,836.41 L464.72,832.87 L461.85,830.59 L465.52,830.43Z"/><path d="M413.20,830.60 L414.09,832.98 L416.62,833.09 L414.64,834.67 L415.32,837.11 L413.20,835.71 L411.08,837.11 L411.76,834.67 L409.78,833.09 L412.31,832.98Z"/><circle cx="400.4" cy="838.2" r="1.25"/><circle cx="408.8" cy="838.2" r="1.25"/><path d="M436.40,832.20 L437.29,834.58 L439.82,834.69 L437.84,836.27 L438.52,838.71 L436.40,837.31 L434.28,838.71 L434.96,836.27 L432.98,834.69 L435.51,834.58Z"/><circle cx="421.6" cy="844.6" r="1.25"/><path d="M408.00,849.80 L409.28,853.23 L412.95,853.39 L410.08,855.67 L411.06,859.21 L408.00,857.18 L404.94,859.21 L405.92,855.67 L403.05,853.39 L406.72,853.23Z"/><path d="M454.40,850.20 L455.29,852.58 L457.82,852.69 L455.84,854.27 L456.52,856.71 L454.40,855.31 L452.28,856.71 L452.96,854.27 L450.98,852.69 L453.51,852.58Z"/><circle cx="471.6" cy="851.4" r="1.25"/><path d="M429.60,857.40 L430.49,859.78 L433.02,859.89 L431.04,861.47 L431.72,863.91 L429.60,862.51 L427.48,863.91 L428.16,861.47 L426.18,859.89 L428.71,859.78Z"/><path d="M397.20,866.60 L398.09,868.98 L400.62,869.09 L398.64,870.67 L399.32,873.11 L397.20,871.71 L395.08,873.11 L395.76,870.67 L393.78,869.09 L396.31,868.98Z"/><circle cx="436" cy="870.6" r="1.25"/><path d="M461.60,869.40 L462.49,871.78 L465.02,871.89 L463.04,873.47 L463.72,875.91 L461.60,874.51 L459.48,875.91 L460.16,873.47 L458.18,871.89 L460.71,871.78Z"/><circle cx="416.8" cy="880.2" r="1.25"/><path d="M408.80,879.80 L410.08,883.23 L413.75,883.39 L410.88,885.67 L411.86,889.21 L408.80,887.18 L405.74,889.21 L406.72,885.67 L403.85,883.39 L407.52,883.23Z"/><circle cx="393.6" cy="887" r="1.25"/><path d="M381.60,886.20 L382.49,888.58 L385.02,888.69 L383.04,890.27 L383.72,892.71 L381.60,891.31 L379.48,892.71 L380.16,890.27 L378.18,888.69 L380.71,888.58Z"/><path d="M436.40,885.80 L437.29,888.18 L439.82,888.29 L437.84,889.87 L438.52,892.31 L436.40,890.91 L434.28,892.31 L434.96,889.87 L432.98,888.29 L435.51,888.18Z"/><path d="M452.40,887.80 L453.68,891.23 L457.35,891.39 L454.48,893.67 L455.46,897.21 L452.40,895.18 L449.34,897.21 L450.32,893.67 L447.45,891.39 L451.12,891.23Z"/><circle cx="470.8" cy="891.8" r="1.25"/></g><path fill="#f4f4f6" stroke="#666667" stroke-width="1.6" stroke-linejoin="round" d="M220,966 L382.5,994 L522,940 L522,962 L383.5,1025 L220,991 Z"/><path fill="#fff" stroke="#fff" stroke-width="6" stroke-linejoin="round" d="M220,966 L333,932.7 L522,940 L382.5,994 Z"/><path fill="#f4f4f6" d="M220,966 L382.5,994 L522,940 L522,962 L383.5,1025 L220,991 Z"/><path fill="#e41f26" d="M220,966 L333,932.7 L522,940 L382.5,994 C330,982 280,972 220,966 Z"/><path fill="none" stroke="#666667" stroke-width="3.2" stroke-linejoin="round" d="M220,990 L220,967 M220,991.5 L383.5,1025.5 L522,962.5"/><path fill="none" stroke="#666667" stroke-width="2" d="M522,962 L522,942"/><path fill="#666667" d="M382.5,996 C385,1003 385,1017 383.5,1024 C381,1017 381,1003 382.5,996 Z"/><path fill="#fff" d="M331.7,926.5 C338,921 345,918 349,917 C358,912 368,904 375.7,902.3 C380,899 385,899 387.5,901 C400,902 412,903 422.7,905.3 C432,907 440,910 444.7,912.6 C450,911 455,911 459.3,912.6 C472,913 485,916 496,918.5 C506,921 515,925 523.9,929.5 C520,933 515,935 510.7,937.5 C500,943 490,950 481.3,953.7 C478,956 476,957 474,956.6 C470,956 467,955 465.2,953 C445,950 425,946 408,943.4 C405,946 402,947 400.7,946.3 C397,945 394,943 391.9,940.5 C372,937 355,934 337.6,930.2 C334,929 332,928 331.7,926.5 Z"/><g fill="none" stroke="#666667" stroke-width="1.2"><path d="M334.7,929.5 C355,933 375,936.5 393,940 C396,943 399,945 402,945"/><path d="M408,942 C425,945 445,949 466,952 C470,955 474,956 478,955"/><path d="M483,952 C495,946 510,938 522,930"/><path d="M400,901 C420,903 435,907 445,913"/></g><g fill="#666667"><path d="M406.5,931 C410,921 422,916 434.4,917.5 C432,920 422,921 406.5,931 Z"/><path d="M481.3,943 C485,933 497,928 509.2,929.5 C507,932 497,933 481.3,943 Z"/></g><path fill="none" stroke="#e41f26" stroke-width="3.6" stroke-linejoin="miter" d="M217,1002.5 L383.6,1043.5 L528,972.8"/><path fill="none" stroke="#e41f26" stroke-width="3.4" stroke-linecap="round" d="M237.5,997.5 L216.4,1002.3 L226.5,1018 M512.4,971.6 L530,971.6 L522,990.5"/><text x="533" y="945" font-family="Liberation Sans, sans-serif" font-weight="bold" font-size="46" fill="#666666" textLength="202" lengthAdjust="spacingAndGlyphs">200 x 125</text></g>
</svg></body></html>
